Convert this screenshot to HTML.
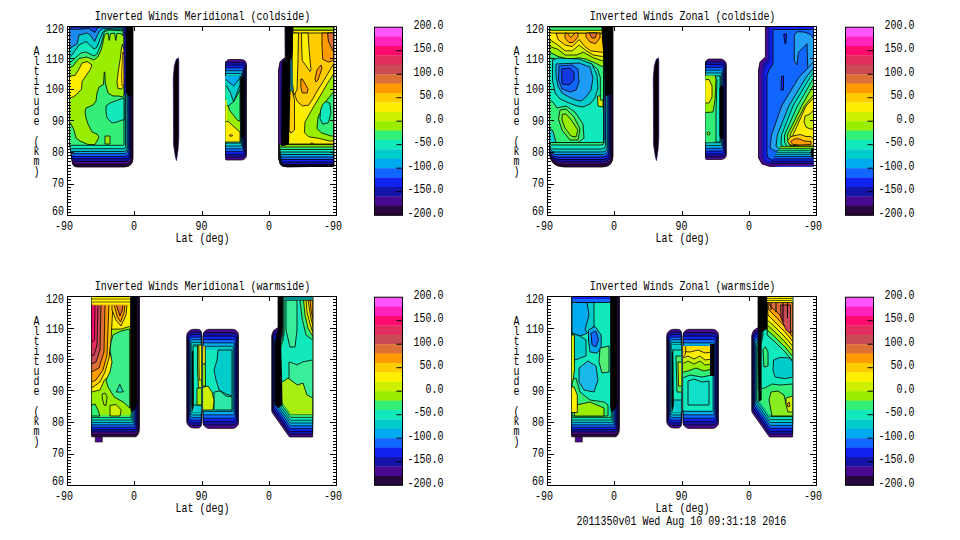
<!DOCTYPE html>
<html><head><meta charset="utf-8"><style>
html,body{margin:0;padding:0;background:#fff;width:960px;height:540px;overflow:hidden}
svg{display:block}
text{font-family:"Liberation Mono",monospace;font-size:10px;fill:#000}
</style></head><body>
<svg width="960" height="540" viewBox="0 0 960 540">
<rect width="960" height="540" fill="#fff"/>
<path d="M72.2 27.0H133.0V158.0Q133.0 167.0 124.0 167.0H77.8Q72.2 167.0 72.2 161.5V27.0Z" fill="#28083c" stroke="#000" stroke-width="0.8"/>
<path d="M71.9 27.0H132.0V156.2Q132.0 164.2 124.0 164.2H76.7Q71.9 164.2 71.9 159.4V27.0Z" fill="#4a0a90" stroke="#000" stroke-width="0.8"/>
<path d="M71.5 27.0H131.0V154.4Q131.0 161.4 124.0 161.4H75.7Q71.5 161.4 71.5 157.3V27.0Z" fill="#1414a8" stroke="#000" stroke-width="0.8"/>
<path d="M71.2 27.0H130.0V152.7Q130.0 158.7 124.0 158.7H74.6Q71.2 158.7 71.2 155.3V27.0Z" fill="#1122ee" stroke="#000" stroke-width="0.8"/>
<path d="M70.9 27.0H129.0V151.4Q129.0 156.4 124.0 156.4H73.8Q70.9 156.4 70.9 153.6V27.0Z" fill="#1166ff" stroke="#000" stroke-width="0.8"/>
<path d="M70.6 27.0H128.0V149.7Q128.0 153.7 124.0 153.7H72.8Q70.6 153.7 70.6 151.5V27.0Z" fill="#00aaee" stroke="#000" stroke-width="0.8"/>
<path d="M70.3 27.0H127.0V148.4Q127.0 151.4 124.0 151.4H71.9Q70.3 151.4 70.3 149.8V27.0Z" fill="#00cccc" stroke="#000" stroke-width="0.8"/>
<path d="M70.0 27.0H125.5V146.7Q125.5 148.7 123.5 148.7H70.9Q70.0 148.7 70.0 147.8V27.0Z" fill="#11e8bb" stroke="#000" stroke-width="0.8"/>
<path d="M69.5 27.0H124.0V144.3Q124.0 145.3 123.0 145.3H69.6Q69.5 145.3 69.5 145.2V27.0Z" fill="#33ee77" stroke="#000" stroke-width="0.8"/>
<polygon points="69.5,27.0 124.0,27.0 124.0,95.0 122.0,97.0 119.0,96.0 113.0,96.0 108.0,93.0 105.3,83.0 104.8,72.0 104.2,72.0 103.5,84.5 99.0,87.0 97.0,93.0 96.0,101.0 93.0,105.0 86.0,108.0 85.0,112.0 86.0,118.0 88.0,124.0 92.0,132.0 97.0,134.0 99.0,137.0 97.0,141.0 95.0,144.5 88.0,144.5 80.0,141.0 76.0,138.0 74.0,130.0 71.0,124.0 69.5,122.0" fill="#99ee00" stroke="#000" stroke-width="0.8" stroke-linejoin="round"/>
<polygon points="106.0,106.0 110.0,103.0 118.0,100.0 124.0,98.0 124.0,120.0 122.0,120.0 117.0,122.0 112.0,123.0 107.0,118.0 106.0,112.0" fill="#11e8bb" stroke="#000" stroke-width="0.8" stroke-linejoin="round"/>
<polygon points="105.0,136.0 110.0,136.0 110.0,144.0 105.0,144.0" fill="#99ee00" stroke="#000" stroke-width="0.8" stroke-linejoin="round"/>
<polygon points="69.5,76.0 75.0,75.5 79.0,69.0 82.0,63.0 87.0,61.5 92.0,65.0 90.0,70.0 84.0,78.5 82.0,82.0 81.5,89.0 77.0,94.0 73.0,97.0 69.5,98.0" fill="#ffee00" stroke="#000" stroke-width="0.8" stroke-linejoin="round"/>
<polygon points="69.5,27.0 69.5,68.0 73.0,66.0 79.0,58.5 87.0,57.0 94.0,60.0 97.8,57.0 101.5,49.0 104.5,35.3 106.0,33.8 108.0,33.2 109.2,40.5 110.5,33.5 114.5,33.2 115.8,40.5 117.0,33.5 121.0,33.5 123.0,36.0 123.0,27.0" fill="#33ee77" stroke="#000" stroke-width="0.8" stroke-linejoin="round"/>
<polygon points="69.5,27.0 69.5,63.0 73.0,60.0 81.0,53.0 86.0,52.0 94.0,56.0 97.0,54.0 100.8,45.0 104.5,31.5 109.0,30.0 122.5,30.8 123.0,27.0" fill="#11e8bb" stroke="#000" stroke-width="0.8" stroke-linejoin="round"/>
<polygon points="69.5,27.0 69.5,57.0 72.0,55.0 79.0,45.0 86.0,41.5 94.0,49.0 97.0,47.0 100.0,39.0 103.0,32.0 106.0,29.3 124.0,29.3 124.0,27.0" fill="#00cccc" stroke="#000" stroke-width="0.8" stroke-linejoin="round"/>
<polygon points="69.5,27.0 69.5,48.0 72.0,47.0 77.0,44.0 79.0,35.0 87.0,33.0 90.3,35.0 94.5,41.5 97.0,36.0 99.3,31.0 103.0,28.5 124.0,27.8 124.0,27.0" fill="#1a8aee" stroke="#000" stroke-width="0.8" stroke-linejoin="round"/>
<polygon points="69.5,27.0 69.5,29.5 68.5,29.3 79.0,29.3 88.8,28.5 94.8,32.6 97.4,27.8 100.0,27.0" fill="#1a44dd" stroke="#000" stroke-width="0.8" stroke-linejoin="round"/>
<polygon points="122.5,44.0 124.0,50.0 124.0,86.0 121.5,89.0 118.0,88.5 117.0,82.0 118.5,70.0 120.5,57.0 121.5,48.0" fill="#ffee00" stroke="#000" stroke-width="0.8" stroke-linejoin="round"/>
<polygon points="122.8,52.0 124.0,55.0 124.0,84.0 122.0,86.0 121.5,75.0" fill="#ffcc00" stroke="#000" stroke-width="0.6" stroke-linejoin="round"/>
<polygon points="123.5,27.0 126.0,27.0 126.0,95.0 124.0,95.0" fill="#141478"/>
<polygon points="125.8,27.0 133.0,27.0 133.0,95.0 127.5,96.0 126.0,92.0" fill="#000000"/>
<polygon points="178.2,57.8 178.8,60.5 178.8,138.0 178.0,150.0 176.5,160.5 175.4,157.0 173.6,145.0 173.3,78.0 174.3,66.0 176.2,59.5" fill="#050008" stroke="#2a0860" stroke-width="0.7" stroke-linejoin="round"/>
<polygon points="246.5,64.5 246.3,63.2 245.8,62.0 245.0,61.0 244.0,60.2 242.8,59.7 241.5,59.5 229.5,59.5 228.5,59.6 227.5,60.0 226.7,60.7 226.0,61.5 225.6,62.5 225.5,63.5 225.5,159.0 225.5,159.3 225.6,159.5 225.8,159.7 226.0,159.9 226.2,160.0 226.5,160.0 241.5,160.0 242.8,159.8 244.0,159.3 245.0,158.5 245.8,157.5 246.3,156.3 246.5,155.0" fill="#4a0a90" stroke="#000" stroke-width="0.7" stroke-linejoin="round"/>
<polygon points="241.5,157.2 242.7,157.0 243.8,156.6 244.7,155.9 245.3,155.1 245.5,154.6 245.5,154.5 245.5,65.0 245.5,64.9 245.3,64.4 244.7,63.6 243.8,62.9 242.7,62.5 241.5,62.3 225.7,62.3 225.6,62.5 225.5,63.5 225.5,157.2" fill="#1414a8" stroke="#000" stroke-width="0.7" stroke-linejoin="round"/>
<polygon points="241.5,154.4 242.6,154.2 243.6,153.8 244.3,153.3 244.5,153.1 244.5,66.4 244.3,66.2 243.6,65.7 242.6,65.3 241.5,65.1 225.5,65.1 225.5,154.4" fill="#1122ee" stroke="#000" stroke-width="0.7" stroke-linejoin="round"/>
<polygon points="241.4,151.6 242.5,151.5 243.4,151.1 243.5,151.0 243.5,68.5 243.4,68.4 242.5,68.0 241.4,67.9 225.5,67.9 225.5,151.6" fill="#1166ff" stroke="#000" stroke-width="0.7" stroke-linejoin="round"/>
<polygon points="241.4,148.8 242.4,148.7 242.5,148.6 242.5,70.9 242.4,70.8 241.4,70.7 225.5,70.7 225.5,148.8" fill="#00aaee" stroke="#000" stroke-width="0.7" stroke-linejoin="round"/>
<polygon points="241.4,146.0 241.5,146.0 241.5,73.5 241.4,73.5 225.5,73.5 225.5,146.0" fill="#00cccc" stroke="#000" stroke-width="0.7" stroke-linejoin="round"/>
<polygon points="240.5,143.2 240.5,76.3 225.5,76.3 225.5,143.2" fill="#11e8bb" stroke="#000" stroke-width="0.7" stroke-linejoin="round"/>
<clipPath id="cl1"><polygon points="240.5,143.2 240.5,76.3 225.5,76.3 225.5,143.2"/></clipPath>
<g clip-path="url(#cl1)">
<polygon points="220.0,70.0 240.0,70.0 240.0,142.0 220.0,142.0" fill="#99ee00"/>
<polygon points="220.0,70.0 240.0,70.0 240.0,96.0 233.6,106.0 229.0,106.0 220.0,104.0" fill="#11e8bb" stroke="#000" stroke-width="0.8" stroke-linejoin="round"/>
<polygon points="240.0,90.0 240.0,121.0 237.7,120.5 233.6,115.3 229.4,110.0 228.4,106.0 233.6,101.7" fill="#33ee77" stroke="#000" stroke-width="0.8" stroke-linejoin="round"/>
<polygon points="220.0,70.0 240.0,70.0 240.0,85.0 233.6,101.7 230.0,92.0 226.5,86.0 220.0,84.0" fill="#00cccc" stroke="#000" stroke-width="0.8" stroke-linejoin="round"/>
<polygon points="220.0,70.0 240.0,70.0 240.0,78.0 233.6,86.0 226.5,80.0 220.0,79.0" fill="#00aaee" stroke="#000" stroke-width="0.8" stroke-linejoin="round"/>
<polygon points="220.0,121.0 228.4,121.5 233.0,126.0 240.0,132.0 240.0,142.0 220.0,142.0" fill="#ffee00" stroke="#000" stroke-width="0.8" stroke-linejoin="round"/>
<polygon points="220.0,100.0 226.8,100.0 226.8,121.0 220.0,121.0" fill="#ffee00"/>
<polygon points="229.0,135.5 231.0,134.5 233.0,135.5 231.0,136.5" fill="#ff9a00" stroke="#000" stroke-width="0.6" stroke-linejoin="round"/>
</g>
<polygon points="240.5,80.0 242.5,76.0 244.5,78.0 244.5,135.0 242.5,140.0 240.5,136.0" fill="#000000"/>
<polygon points="285.0,27.0 334.0,27.0 334.0,166.0 287.0,167.0 281.0,165.0 278.5,159.0 278.5,70.0 280.0,62.0 283.0,59.0 285.2,58.0" fill="#4a0a90" stroke="#000" stroke-width="0.8" stroke-linejoin="round"/>
<polygon points="280.5,63.0 283.0,60.5 283.0,140.0 280.0,140.0 280.0,70.0" fill="#2a1080"/>
<polygon points="293.0,27.0 333.5,27.0 333.5,144.0 288.0,144.0 288.0,95.0 291.0,60.0 293.0,50.0" fill="#ffcc00"/>
<polygon points="293.0,27.0 333.5,27.0 333.5,30.3 293.0,30.3" fill="#99ee00" stroke="#000" stroke-width="0.8" stroke-linejoin="round"/>
<polygon points="293.0,30.3 333.5,30.3 333.5,33.0 293.0,33.0" fill="#ffee00" stroke="#000" stroke-width="0.8" stroke-linejoin="round"/>
<polygon points="322.0,33.0 333.5,33.0 333.5,60.6 328.3,62.0 322.7,59.2 322.0,45.0" fill="#ff9a00" stroke="#000" stroke-width="0.8" stroke-linejoin="round"/>
<polygon points="327.6,33.0 333.5,33.0 333.5,52.0 328.3,41.0" fill="#dc7035" stroke="#000" stroke-width="0.8" stroke-linejoin="round"/>
<polygon points="301.6,33.0 308.0,33.0 309.3,52.0 311.0,70.0 310.0,71.5 302.3,60.6 301.6,45.0" fill="#ffee00" stroke="#000" stroke-width="0.8" stroke-linejoin="round"/>
<polygon points="321.0,65.0 322.0,68.0 318.0,80.0 316.0,82.0 315.0,79.0 317.0,70.0" fill="#ff9a00" stroke="#000" stroke-width="0.8" stroke-linejoin="round"/>
<polygon points="300.9,79.0 302.3,79.0 308.0,88.8 307.2,93.0 302.3,93.0 300.9,87.4" fill="#ff9a00" stroke="#000" stroke-width="0.8" stroke-linejoin="round"/>
<polygon points="333.5,64.0 324.0,80.0 316.0,93.0 312.8,98.8 308.6,105.2 302.3,105.9 297.4,101.6 295.2,96.0 293.5,80.0 292.0,62.0 291.0,45.0 289.0,60.0 288.0,95.0 288.0,144.0 333.5,144.0" fill="#ffee00" stroke="#000" stroke-width="0.8" stroke-linejoin="round"/>
<polygon points="292.5,33.0 298.5,33.0 298.0,60.0 297.0,90.0 294.0,95.0 292.0,80.0" fill="#ffee00" stroke="#000" stroke-width="0.8" stroke-linejoin="round"/>
<polygon points="289.0,92.0 292.0,90.0 294.5,100.0 294.5,130.0 291.0,133.0 289.0,130.0" fill="#ffcc00" stroke="#000" stroke-width="0.8" stroke-linejoin="round"/>
<polygon points="333.5,74.0 327.0,84.0 321.3,94.0 312.8,108.0 305.0,122.0 304.4,132.6 308.6,136.8 318.5,138.3 329.7,141.0 333.5,141.0" fill="#99ee00" stroke="#000" stroke-width="0.8" stroke-linejoin="round"/>
<polygon points="333.5,92.0 327.0,100.0 318.0,117.0 317.0,128.4 321.0,132.6 331.0,136.0 333.5,136.0" fill="#33ee77" stroke="#000" stroke-width="0.8" stroke-linejoin="round"/>
<polygon points="325.5,101.6 329.7,103.0 331.0,113.0 328.3,122.8 322.7,124.2 319.9,118.5 320.6,110.0 322.7,104.5" fill="#11e8bb" stroke="#000" stroke-width="0.8" stroke-linejoin="round"/>
<polygon points="310.0,144.0 312.0,142.5 314.0,144.0" fill="#ff9a00" stroke="#000" stroke-width="0.6" stroke-linejoin="round"/>
<path d="M279.5 144.6H333.5V166.5H285.5Q279.5 166.5 279.5 160.5V144.6Z" fill="#99ee00" stroke="#000" stroke-width="0.8"/>
<path d="M279.8 147.0H333.5V166.4H285.4Q279.8 166.4 279.8 160.8V147.0Z" fill="#33ee77" stroke="#000" stroke-width="0.8"/>
<path d="M280.1 149.5H333.5V166.3H285.3Q280.1 166.3 280.1 161.1V149.5Z" fill="#11e8bb" stroke="#000" stroke-width="0.8"/>
<path d="M280.4 152.0H333.5V166.2H285.2Q280.4 166.2 280.4 161.4V152.0Z" fill="#00cccc" stroke="#000" stroke-width="0.8"/>
<path d="M280.7 154.5H333.5V166.1H285.1Q280.7 166.1 280.7 161.7V154.5Z" fill="#00aaee" stroke="#000" stroke-width="0.8"/>
<path d="M281.0 157.0H333.5V166.0H285.0Q281.0 166.0 281.0 162.0V157.0Z" fill="#1166ff" stroke="#000" stroke-width="0.8"/>
<path d="M281.3 159.5H333.5V165.9H284.9Q281.3 165.9 281.3 162.3V159.5Z" fill="#1122ee" stroke="#000" stroke-width="0.8"/>
<path d="M281.6 162.0H333.5V165.8H284.8Q281.6 165.8 281.6 162.6V162.0Z" fill="#1414a8" stroke="#000" stroke-width="0.8"/>
<path d="M281.9 164.5H333.5V165.7H284.7Q281.9 165.7 281.9 162.9V164.5Z" fill="#4a0a90" stroke="#000" stroke-width="0.8"/>
<polygon points="285.5,27.0 292.8,27.0 292.8,50.0 291.5,62.0 290.5,90.0 289.5,120.0 289.0,144.0 284.0,146.0 281.0,146.0 281.5,100.0 282.0,62.0 285.5,58.0" fill="#000000"/>
<polygon points="290.3,60.0 291.5,58.0 292.5,70.0 293.0,90.0 290.5,92.0" fill="#0e6a8a"/>
<path d="M549.5 27.0H613.0V156.0Q613.0 167.0 602.0 167.0H564.5Q549.5 167.0 549.5 152.0V27.0Z" fill="#28083c" stroke="#000" stroke-width="0.8"/>
<path d="M549.5 27.0H612.0V154.3Q612.0 164.3 602.0 164.3H562.9Q549.5 164.3 549.5 150.9V27.0Z" fill="#4a0a90" stroke="#000" stroke-width="0.8"/>
<path d="M549.5 27.0H611.0V153.0Q611.0 162.0 602.0 162.0H561.5Q549.5 162.0 549.5 150.0V27.0Z" fill="#1414a8" stroke="#000" stroke-width="0.8"/>
<path d="M549.5 27.0H610.0V151.5Q610.0 159.5 602.0 159.5H560.0Q549.5 159.5 549.5 149.0V27.0Z" fill="#1122ee" stroke="#000" stroke-width="0.8"/>
<path d="M549.5 27.0H609.0V150.0Q609.0 157.0 602.0 157.0H558.5Q549.5 157.0 549.5 148.0V27.0Z" fill="#1166ff" stroke="#000" stroke-width="0.8"/>
<path d="M549.5 27.0H608.0V148.5Q608.0 154.5 602.0 154.5H557.0Q549.5 154.5 549.5 147.0V27.0Z" fill="#00aaee" stroke="#000" stroke-width="0.8"/>
<path d="M549.5 27.0H607.0V147.0Q607.0 152.0 602.0 152.0H555.5Q549.5 152.0 549.5 146.0V27.0Z" fill="#00cccc" stroke="#000" stroke-width="0.8"/>
<path d="M549.5 27.0H605.5V145.0Q605.5 149.0 601.5 149.0H553.7Q549.5 149.0 549.5 144.8V27.0Z" fill="#11e8bb" stroke="#000" stroke-width="0.8"/>
<path d="M549.5 27.0H604.0V142.0Q604.0 145.0 601.0 145.0H551.3Q549.5 145.0 549.5 143.2V27.0Z" fill="#33ee77" stroke="#000" stroke-width="0.8"/>
<path d="M549.5 27.0H603.5V142.5H552.5Q549.5 142.5 549.5 139.5V27.0Z" fill="#11e8bb" stroke="#000" stroke-width="0.8"/>
<polygon points="549.5,100.0 553.0,102.0 557.0,108.0 566.0,106.0 575.0,112.0 583.0,124.0 584.0,138.0 578.0,142.5 549.5,142.5" fill="#33ee77" stroke="#000" stroke-width="0.8" stroke-linejoin="round"/>
<polygon points="560.0,110.0 566.0,109.0 574.0,117.0 580.0,129.0 578.0,140.0 570.0,140.0 562.0,130.0 558.5,119.0" fill="#66ee44" stroke="#000" stroke-width="0.8" stroke-linejoin="round"/>
<polygon points="562.3,114.3 566.0,114.0 572.0,121.0 577.8,130.0 576.0,137.0 571.0,136.0 565.0,128.0 562.0,120.0" fill="#99ee00" stroke="#000" stroke-width="0.8" stroke-linejoin="round"/>
<polygon points="597.5,96.0 603.0,96.0 603.0,107.0 598.0,106.0" fill="#ccf000" stroke="#000" stroke-width="0.8" stroke-linejoin="round"/>
<polygon points="549.5,128.0 553.0,131.0 556.0,142.5 549.5,142.5" fill="#00cccc" stroke="#000" stroke-width="0.8" stroke-linejoin="round"/>
<polygon points="549.5,27.0 549.5,57.8 555.3,59.2 560.9,62.0 579.2,62.0 590.5,63.4 597.5,69.1 600.3,77.5 600.3,100.0 603.5,100.0 603.5,27.0" fill="#33ee77" stroke="#000" stroke-width="0.8" stroke-linejoin="round"/>
<polygon points="549.5,27.0 549.5,52.2 558.1,56.4 567.9,59.2 579.2,57.8 586.3,59.2 596.1,63.4 601.7,66.3 603.5,66.3 603.5,27.0" fill="#99ee00" stroke="#000" stroke-width="0.8" stroke-linejoin="round"/>
<polygon points="549.5,27.0 549.5,46.5 558.1,49.4 565.1,55.0 576.4,55.0 583.4,52.2 593.3,57.8 601.7,60.6 603.5,60.6 603.5,27.0" fill="#ccf000" stroke="#000" stroke-width="0.8" stroke-linejoin="round"/>
<polygon points="549.5,27.0 549.5,39.5 558.1,45.1 565.1,50.8 572.2,50.8 579.2,45.1 586.3,50.8 593.3,55.0 601.7,56.4 603.5,56.4 603.5,27.0" fill="#ffee00" stroke="#000" stroke-width="0.8" stroke-linejoin="round"/>
<polygon points="556.0,33.0 558.1,39.5 565.1,45.1 572.2,46.5 579.2,39.5 584.8,46.5 590.5,50.8 601.7,52.2 603.5,52.2 603.5,33.0" fill="#ffcc00" stroke="#000" stroke-width="0.8" stroke-linejoin="round"/>
<polygon points="549.5,27.0 603.5,27.0 603.5,33.0 549.5,33.0" fill="#ffee00" stroke="#000" stroke-width="0.8" stroke-linejoin="round"/>
<polygon points="549.5,27.0 603.5,27.0 603.5,30.3 549.5,30.3" fill="#33ee77" stroke="#000" stroke-width="0.8" stroke-linejoin="round"/>
<polygon points="565.0,33.0 567.0,33.0 570.8,37.5 575.0,33.0 578.0,33.0 578.0,37.0 573.0,42.5 569.0,42.5 565.0,38.0" fill="#ff9a00" stroke="#000" stroke-width="0.8" stroke-linejoin="round"/>
<polygon points="586.0,33.0 600.0,33.0 600.0,38.0 595.5,43.7 590.0,42.0 586.0,37.0" fill="#ff9a00" stroke="#000" stroke-width="0.8" stroke-linejoin="round"/>
<polygon points="589.0,33.0 597.0,33.0 595.0,38.0 592.0,38.0" fill="#dc7035" stroke="#000" stroke-width="0.8" stroke-linejoin="round"/>
<polygon points="552.5,60.0 558.0,58.0 579.0,59.0 592.0,64.0 597.0,75.0 598.0,88.0 595.0,98.0 590.0,104.0 583.0,107.0 577.0,106.0 569.0,103.0 560.0,99.0 555.0,93.0 552.5,80.0" fill="#00cccc" stroke="#000" stroke-width="0.8" stroke-linejoin="round"/>
<polygon points="556.0,64.0 579.0,63.0 590.0,67.0 593.0,78.0 591.0,90.0 586.0,97.0 581.0,101.0 576.0,100.0 569.0,97.0 562.0,93.0 558.0,86.0 556.0,75.0" fill="#1e9cf5" stroke="#000" stroke-width="0.8" stroke-linejoin="round"/>
<polygon points="559.0,66.0 572.0,65.0 578.0,69.0 579.0,82.0 576.0,90.0 570.0,92.0 562.0,89.0 558.5,80.0" fill="#1166ff" stroke="#000" stroke-width="0.8" stroke-linejoin="round"/>
<polygon points="561.6,69.0 570.0,68.0 574.0,72.0 574.0,80.0 569.0,85.0 562.0,84.0" fill="#1438e0" stroke="#000" stroke-width="0.8" stroke-linejoin="round"/>
<polygon points="601.5,27.0 612.0,27.0 612.0,94.0 606.0,96.0 604.6,100.0 604.0,60.0 602.0,40.0" fill="#000000"/>
<polygon points="604.5,94.0 606.0,96.0 606.0,140.0 604.5,140.0" fill="#101070"/>
<polygon points="658.2,57.8 658.8,60.5 658.8,138.0 658.0,150.0 656.5,160.5 655.4,157.0 653.6,145.0 653.3,78.0 654.3,66.0 656.2,59.5" fill="#050008" stroke="#2a0860" stroke-width="0.7" stroke-linejoin="round"/>
<polygon points="709.5,59.0 708.5,59.1 707.5,59.5 706.7,60.2 706.0,61.0 705.6,62.0 705.5,63.0 705.5,158.5 705.5,158.8 705.6,159.0 705.8,159.2 706.0,159.4 706.2,159.5 706.5,159.5 721.4,159.5 722.7,159.3 723.9,158.8 724.9,158.0 725.7,157.0 726.2,155.8 726.4,154.5 726.4,65.0 726.2,63.4 725.6,62.0 724.6,60.8 723.4,59.8 722.0,59.2 720.4,59.0" fill="#4a0a90" stroke="#000" stroke-width="0.7" stroke-linejoin="round"/>
<polygon points="721.4,156.7 722.6,156.5 723.7,156.1 724.6,155.4 725.2,154.6 725.4,154.1 725.4,154.0 725.4,65.5 725.3,65.1 725.0,64.4 724.3,63.4 723.2,62.5 721.9,62.0 720.4,61.8 705.7,61.8 705.6,62.0 705.5,63.0 705.5,156.7" fill="#1414a8" stroke="#000" stroke-width="0.7" stroke-linejoin="round"/>
<polygon points="721.4,153.9 722.5,153.7 723.5,153.3 724.2,152.8 724.4,152.6 724.4,66.6 724.0,66.0 723.0,65.3 721.8,64.8 720.4,64.6 705.5,64.6 705.5,153.9" fill="#1122ee" stroke="#000" stroke-width="0.7" stroke-linejoin="round"/>
<polygon points="721.3,151.1 722.4,151.0 723.3,150.6 723.4,150.5 723.4,68.5 722.8,68.0 721.7,67.6 720.3,67.4 705.5,67.4 705.5,151.1" fill="#1166ff" stroke="#000" stroke-width="0.7" stroke-linejoin="round"/>
<polygon points="721.3,148.3 722.3,148.2 722.4,148.1 722.4,70.7 721.6,70.4 720.3,70.2 705.5,70.2 705.5,148.3" fill="#00aaee" stroke="#000" stroke-width="0.7" stroke-linejoin="round"/>
<polygon points="721.3,145.5 721.4,145.5 721.4,73.1 720.3,73.0 705.5,73.0 705.5,145.5" fill="#00cccc" stroke="#000" stroke-width="0.7" stroke-linejoin="round"/>
<polygon points="720.4,142.7 720.4,75.8 720.3,75.8 705.5,75.8 705.5,142.7" fill="#11e8bb" stroke="#000" stroke-width="0.7" stroke-linejoin="round"/>
<clipPath id="cl2"><polygon points="720.4,142.7 720.4,75.8 720.3,75.8 705.5,75.8 705.5,142.7"/></clipPath>
<g clip-path="url(#cl2)">
<polygon points="700.0,70.0 720.0,70.0 720.0,142.0 700.0,142.0" fill="#33ee77"/>
<polygon points="700.0,72.0 715.0,72.0 716.0,80.0 715.0,100.0 713.0,112.0 700.0,113.0" fill="#99ee00" stroke="#000" stroke-width="0.8" stroke-linejoin="round"/>
<polygon points="700.0,80.0 709.0,79.5 712.0,86.0 712.0,97.0 709.0,103.0 700.0,103.0" fill="#ffee00" stroke="#000" stroke-width="0.8" stroke-linejoin="round"/>
<polygon points="715.0,76.0 720.0,76.0 720.0,142.0 716.0,142.0 716.0,110.0 717.0,80.0" fill="#11e8bb" stroke="#000" stroke-width="0.8" stroke-linejoin="round"/>
<path d="M707,133.5a1.5,1.5 0 1,0 3,0a1.5,1.5 0 1,0 -3,0Z" fill="#99ee00" stroke="#000" stroke-width="0.8"/>
</g>
<polygon points="719.4,88.0 721.5,85.0 723.6,87.0 723.6,137.0 721.5,140.0 719.4,136.0" fill="#000000"/>
<polygon points="765.4,27.0 813.5,27.0 813.5,166.5 770.0,166.5 762.0,164.0 758.5,158.0 758.5,70.0 760.0,62.0 765.4,57.0" fill="#4a0a90" stroke="#000" stroke-width="0.8" stroke-linejoin="round"/>
<polygon points="767.5,27.0 813.5,27.0 813.5,164.5 771.0,164.5 764.0,162.0 761.8,157.0 761.8,72.0 763.0,64.0 767.5,59.0" fill="#1414a8"/>
<polygon points="770.3,27.0 813.5,27.0 813.5,162.5 772.0,162.5 766.0,160.0 764.6,156.0 764.6,74.0 766.0,67.0 770.3,61.0" fill="#1122ee"/>
<polygon points="773.0,29.5 813.5,29.5 813.5,160.5 773.0,160.5 768.0,158.0 767.0,154.0 767.0,76.0 769.0,70.0 773.0,64.0" fill="#1166ff" stroke="#000" stroke-width="0.8" stroke-linejoin="round"/>
<polygon points="794.3,35.3 797.0,31.7 804.0,32.0 809.7,34.0 813.5,38.0 813.5,80.0 808.3,77.5 807.6,63.4 807.0,43.7 798.5,52.2 797.0,64.8 794.3,60.6" fill="#22a0f5" stroke="#000" stroke-width="0.8" stroke-linejoin="round"/>
<polygon points="783.7,34.0 786.5,34.0 786.0,43.7 785.0,43.7" fill="#1122ee" stroke="#000" stroke-width="0.8" stroke-linejoin="round"/>
<polygon points="781.5,76.0 783.5,76.0 783.5,90.0 781.0,90.0" fill="#1122ee" stroke="#000" stroke-width="0.8" stroke-linejoin="round"/>
<polygon points="813.5,62.0 798.8,77.5 781.6,106.0 771.5,135.0 770.0,148.0 775.0,151.0 813.5,151.0" fill="#22a0f5" stroke="#000" stroke-width="0.8" stroke-linejoin="round"/>
<polygon points="813.5,68.0 806.0,77.5 788.8,106.0 777.3,135.0 776.0,146.0 780.0,149.5 813.5,149.5" fill="#00cccc" stroke="#000" stroke-width="0.8" stroke-linejoin="round"/>
<polygon points="813.5,73.0 810.0,77.5 793.0,106.0 781.6,135.0 781.0,144.0 784.0,148.0 813.5,148.0" fill="#11e8bb" stroke="#000" stroke-width="0.8" stroke-linejoin="round"/>
<polygon points="813.5,78.0 797.4,106.0 784.5,135.0 784.5,142.0 787.0,146.5 813.5,146.5" fill="#33ee77" stroke="#000" stroke-width="0.8" stroke-linejoin="round"/>
<polygon points="813.5,85.0 801.7,106.0 787.4,135.0 788.0,141.0 790.0,145.5 813.5,145.5" fill="#99ee00" stroke="#000" stroke-width="0.8" stroke-linejoin="round"/>
<polygon points="813.5,95.0 804.6,106.0 790.0,135.0 791.0,140.0 793.0,145.0 813.5,145.0" fill="#ccf000" stroke="#000" stroke-width="0.8" stroke-linejoin="round"/>
<polygon points="813.5,98.0 806.0,106.0 793.0,135.0 794.0,139.0 796.0,144.5 813.5,144.5" fill="#ffee00" stroke="#000" stroke-width="0.8" stroke-linejoin="round"/>
<polygon points="813.5,110.0 810.0,114.0 805.0,116.0 804.0,122.0 806.0,127.0 810.0,129.0 813.5,129.0" fill="#ccf000" stroke="#000" stroke-width="0.8" stroke-linejoin="round"/>
<polygon points="787.5,141.0 791.0,136.5 800.0,134.5 806.0,136.5 811.0,136.5 813.5,139.0 813.5,146.0 800.0,146.0 790.0,145.0" fill="#ffcc00" stroke="#000" stroke-width="0.8" stroke-linejoin="round"/>
<polygon points="790.5,141.5 795.0,138.7 800.0,139.0 804.0,141.0 811.0,141.5 811.0,144.5 800.0,145.0 793.0,144.5" fill="#ff9a00" stroke="#000" stroke-width="0.8" stroke-linejoin="round"/>
<polygon points="780.0,146.3 813.5,146.3 813.5,166.3 780.0,166.3" fill="#99ee00"/>
<path d="M780.0 146.3H813.5" stroke="#000" stroke-width="0.7"/>
<polygon points="778.8,148.3 813.5,148.3 813.5,166.3 778.8,166.3" fill="#33ee77"/>
<path d="M778.8 148.3H813.5" stroke="#000" stroke-width="0.7"/>
<polygon points="777.6,150.3 813.5,150.3 813.5,166.3 777.6,166.3" fill="#11e8bb"/>
<path d="M777.6 150.3H813.5" stroke="#000" stroke-width="0.7"/>
<polygon points="776.4,152.3 813.5,152.3 813.5,166.3 776.4,166.3" fill="#00cccc"/>
<path d="M776.4 152.3H813.5" stroke="#000" stroke-width="0.7"/>
<polygon points="775.2,154.3 813.5,154.3 813.5,166.3 775.2,166.3" fill="#00aaee"/>
<path d="M775.2 154.3H813.5" stroke="#000" stroke-width="0.7"/>
<polygon points="774.0,156.5 813.5,156.5 813.5,166.3 774.0,166.3" fill="#1166ff"/>
<path d="M774.0 156.5H813.5" stroke="#000" stroke-width="0.7"/>
<polygon points="772.8,158.8 813.5,158.8 813.5,166.3 772.8,166.3" fill="#1122ee"/>
<path d="M772.8 158.8H813.5" stroke="#000" stroke-width="0.7"/>
<polygon points="771.6,161.2 813.5,161.2 813.5,166.3 771.6,166.3" fill="#1414a8"/>
<path d="M771.6 161.2H813.5" stroke="#000" stroke-width="0.7"/>
<polygon points="770.4,163.6 813.5,163.6 813.5,166.3 770.4,166.3" fill="#4a0a90"/>
<path d="M770.4 163.6H813.5" stroke="#000" stroke-width="0.7"/>
<polygon points="811.0,149.0 813.5,148.0 813.5,158.0 811.0,157.0" fill="#000000"/>
<rect x="95.2" y="436" width="7" height="6" fill="#4a0a90" stroke="#000" stroke-width="0.6"/>
<polygon points="135.1,436.8 136.0,436.6 136.8,436.1 137.5,435.2 138.2,434.0 138.8,432.5 139.2,430.9 139.4,429.1 139.5,427.2 139.5,296.5 91.6,296.5 91.6,436.8" fill="#28083c" stroke="#000" stroke-width="0.7" stroke-linejoin="round"/>
<polygon points="135.0,434.4 135.7,434.3 136.4,433.8 136.9,433.2 137.4,432.3 137.8,431.2 138.1,430.0 138.3,428.6 138.4,427.1 138.4,296.5 91.6,296.5 91.6,434.4" fill="#4a0a90" stroke="#000" stroke-width="0.7" stroke-linejoin="round"/>
<polygon points="135.0,432.0 135.5,431.9 135.9,431.6 136.3,431.2 136.6,430.6 136.9,429.9 137.1,429.0 137.2,428.1 137.3,427.0 137.3,296.5 91.6,296.5 91.6,432.0" fill="#1414a8" stroke="#000" stroke-width="0.7" stroke-linejoin="round"/>
<polygon points="134.9,429.6 135.3,429.5 135.5,429.4 135.7,429.2 135.9,428.9 136.0,428.5 136.1,428.1 136.2,427.7 136.2,426.8 136.2,296.5 91.6,296.5 91.6,429.6" fill="#1122ee" stroke="#000" stroke-width="0.7" stroke-linejoin="round"/>
<polygon points="134.9,427.2 135.1,427.2 135.1,426.7 135.1,296.5 91.6,296.5 91.6,427.2" fill="#1166ff" stroke="#000" stroke-width="0.7" stroke-linejoin="round"/>
<polygon points="134.0,424.8 134.0,296.5 91.6,296.5 91.6,424.8" fill="#00aaee" stroke="#000" stroke-width="0.7" stroke-linejoin="round"/>
<polygon points="132.9,422.4 132.9,296.5 91.6,296.5 91.6,422.4" fill="#00cccc" stroke="#000" stroke-width="0.7" stroke-linejoin="round"/>
<polygon points="131.8,420.0 131.8,296.5 91.6,296.5 91.6,420.0" fill="#11e8bb" stroke="#000" stroke-width="0.7" stroke-linejoin="round"/>
<polygon points="130.7,417.6 130.7,296.5 91.6,296.5 91.6,417.6" fill="#33ee77" stroke="#000" stroke-width="0.7" stroke-linejoin="round"/>
<clipPath id="cl3"><polygon points="130.7,417.6 130.7,296.5 91.6,296.5 91.6,417.6"/></clipPath>
<g clip-path="url(#cl3)">
<polygon points="91.6,296.5 131.0,296.5 131.0,415.3 91.6,415.3" fill="#99ee00"/>
<polygon points="91.6,296.5 131.0,296.5 131.0,326.0 121.2,329.0 111.4,329.2 108.5,336.3 108.5,350.3 112.8,360.2 114.2,370.0 110.0,376.0 104.3,380.0 100.0,390.0 91.6,392.0" fill="#ffee00" stroke="#000" stroke-width="0.8" stroke-linejoin="round"/>
<polygon points="91.6,304.0 113.0,304.0 111.0,340.0 109.0,358.0 105.0,372.0 100.0,382.0 91.6,388.0" fill="#ffcc00" stroke="#000" stroke-width="0.8" stroke-linejoin="round"/>
<polygon points="91.6,304.0 109.0,304.0 107.0,355.0 103.0,370.0 96.0,380.0 91.6,382.0" fill="#ff9a00" stroke="#000" stroke-width="0.8" stroke-linejoin="round"/>
<polygon points="91.6,304.0 105.0,304.0 104.0,352.0 99.0,368.0 91.6,372.0" fill="#dc7035" stroke="#000" stroke-width="0.8" stroke-linejoin="round"/>
<polygon points="91.6,304.0 101.0,304.0 100.0,350.0 96.0,362.0 91.6,364.0" fill="#c84a55" stroke="#000" stroke-width="0.8" stroke-linejoin="round"/>
<polygon points="91.6,304.0 98.0,304.0 97.0,345.0 94.0,355.0 91.6,356.0" fill="#e22d5f" stroke="#000" stroke-width="0.8" stroke-linejoin="round"/>
<polygon points="91.6,304.0 95.0,304.0 94.5,340.0 91.6,342.0" fill="#ff0a6e" stroke="#000" stroke-width="0.8" stroke-linejoin="round"/>
<polygon points="112.0,304.0 127.0,304.0 126.0,315.0 121.0,326.0 116.0,320.0 112.0,310.0" fill="#ffcc00" stroke="#000" stroke-width="0.8" stroke-linejoin="round"/>
<polygon points="114.0,304.0 125.0,304.0 124.0,313.0 120.5,322.0 117.0,316.0" fill="#ff9a00" stroke="#000" stroke-width="0.8" stroke-linejoin="round"/>
<polygon points="116.0,304.0 123.0,304.0 122.0,311.0 120.0,316.0" fill="#dc7035" stroke="#000" stroke-width="0.8" stroke-linejoin="round"/>
<polygon points="113.0,334.8 121.2,331.0 129.7,329.0 129.7,408.0 124.0,402.6 114.2,397.0 108.0,387.0 106.0,380.0 110.0,372.0 112.0,362.0 110.0,350.0 111.0,342.0" fill="#3dee88" stroke="#000" stroke-width="0.8" stroke-linejoin="round"/>
<polygon points="116.3,392.0 119.8,384.3 123.3,392.0" fill="#11e8bb" stroke="#000" stroke-width="0.8" stroke-linejoin="round"/>
<polygon points="102.2,394.0 105.0,393.0 107.1,397.0 106.0,405.4 104.0,405.0 102.2,398.0" fill="#99ee00" stroke="#000" stroke-width="0.8" stroke-linejoin="round"/>
<polygon points="110.0,405.4 116.0,404.5 121.2,410.0 120.0,416.0 110.0,416.0" fill="#ccf000" stroke="#000" stroke-width="0.8" stroke-linejoin="round"/>
<polygon points="91.6,405.0 95.0,404.0 98.0,410.0 100.0,416.0 91.6,416.0" fill="#33ee77" stroke="#000" stroke-width="0.8" stroke-linejoin="round"/>
<polygon points="91.6,296.5 131.0,296.5 131.0,304.0 91.6,304.0" fill="#ffee00"/>
<path d="M91.6 299H131" stroke="#000" stroke-width="0.6"/>
<path d="M91.6 302H131" stroke="#000" stroke-width="0.6"/>
<polygon points="91.6,304.0 131.0,304.0 131.0,305.2 91.6,305.2" fill="#ffcc00"/>
</g>
<polygon points="130.2,296.5 137.0,296.5 137.0,405.0 134.6,410.0 131.5,412.0 130.2,408.0" fill="#000000"/>
<polygon points="186.7,336.3 186.7,421.0 186.9,422.8 187.6,424.5 188.8,425.9 190.2,427.1 191.9,427.8 193.7,428.0 198.2,428.0 199.0,427.9 199.7,427.6 200.3,427.1 200.8,426.5 201.1,425.8 201.2,425.0 201.2,332.3 201.1,331.5 200.8,330.8 200.3,330.2 199.7,329.7 199.0,329.4 198.2,329.3 193.7,329.3 191.9,329.5 190.2,330.2 188.8,331.4 187.6,332.8 186.9,334.5" fill="#4a0a90" stroke="#000" stroke-width="0.7" stroke-linejoin="round"/>
<polygon points="187.5,420.5 187.6,421.2 188.1,422.2 189.0,423.5 190.4,424.5 192.0,425.2 193.7,425.4 201.1,425.4 201.2,425.0 201.2,332.3 201.1,331.9 193.7,331.9 192.0,332.1 190.4,332.8 189.0,333.8 188.1,335.1 187.6,336.1 187.5,336.8" fill="#1414a8" stroke="#000" stroke-width="0.7" stroke-linejoin="round"/>
<polygon points="188.4,419.7 188.5,420.0 189.3,421.0 190.5,421.9 192.0,422.6 193.7,422.8 201.2,422.8 201.2,334.5 193.7,334.5 192.0,334.7 190.5,335.4 189.3,336.3 188.5,337.3 188.4,337.6" fill="#1122ee" stroke="#000" stroke-width="0.7" stroke-linejoin="round"/>
<polygon points="189.2,418.1 189.6,418.5 190.7,419.4 192.1,420.0 193.8,420.2 201.2,420.2 201.2,337.1 193.8,337.1 192.1,337.3 190.7,337.9 189.6,338.8 189.2,339.2" fill="#1166ff" stroke="#000" stroke-width="0.7" stroke-linejoin="round"/>
<polygon points="190.1,416.3 190.8,416.8 192.2,417.4 193.8,417.6 201.2,417.6 201.2,339.7 193.8,339.7 192.2,339.9 190.8,340.5 190.1,341.0" fill="#00aaee" stroke="#000" stroke-width="0.7" stroke-linejoin="round"/>
<polygon points="190.9,414.2 191.0,414.3 192.3,414.8 193.8,415.0 201.2,415.0 201.2,342.3 193.8,342.3 192.3,342.5 191.0,343.0 190.9,343.1" fill="#00cccc" stroke="#000" stroke-width="0.7" stroke-linejoin="round"/>
<polygon points="191.8,412.0 192.3,412.2 193.8,412.4 201.2,412.4 201.2,344.9 193.8,344.9 192.3,345.1 191.8,345.3" fill="#11e8bb" stroke="#000" stroke-width="0.7" stroke-linejoin="round"/>
<clipPath id="cl4"><polygon points="191.8,412.0 192.3,412.2 193.8,412.4 201.2,412.4 201.2,344.9 193.8,344.9 192.3,345.1 191.8,345.3"/></clipPath>
<g clip-path="url(#cl4)">
<polygon points="185.0,340.0 202.0,340.0 202.0,420.0 185.0,420.0" fill="#00cccc"/>
<polygon points="193.0,346.0 202.0,346.0 202.0,405.0 193.0,405.0" fill="#11e8bb" stroke="#000" stroke-width="0.8" stroke-linejoin="round"/>
<polygon points="197.5,341.0 201.5,341.0 201.5,388.0 198.5,388.0 197.5,370.0" fill="#ccf000" stroke="#000" stroke-width="0.8" stroke-linejoin="round"/>
<polygon points="198.8,345.0 201.5,345.0 201.5,380.0 199.2,380.0" fill="#ffee00" stroke="#000" stroke-width="0.8" stroke-linejoin="round"/>
<polygon points="197.0,388.0 201.5,388.0 201.5,405.0 197.0,405.0" fill="#99ee00" stroke="#000" stroke-width="0.8" stroke-linejoin="round"/>
</g>
<polygon points="191.8,352.0 193.3,350.0 193.8,405.0 192.5,412.0 191.5,405.0" fill="#000000"/>
<polygon points="209.2,329.3 207.6,329.5 206.2,330.1 205.0,331.1 204.0,332.3 203.4,333.7 203.2,335.3 203.2,422.4 203.4,424.0 204.0,425.4 205.0,426.6 206.2,427.6 207.6,428.2 209.2,428.4 232.5,428.4 234.1,428.2 235.5,427.6 236.7,426.6 237.7,425.4 238.3,424.0 238.5,422.4 238.5,335.3 238.3,333.7 237.7,332.3 236.7,331.1 235.5,330.1 234.1,329.5 232.5,329.3" fill="#4a0a90" stroke="#000" stroke-width="0.7" stroke-linejoin="round"/>
<polygon points="232.5,425.0 234.0,424.8 235.3,424.2 236.4,423.4 237.2,422.4 237.4,421.8 237.5,421.7 237.5,336.0 237.4,335.9 237.2,335.3 236.4,334.3 235.3,333.5 234.0,332.9 232.5,332.7 203.8,332.7 203.4,333.7 203.2,335.3 203.2,422.4 203.4,424.0 203.8,425.0" fill="#1414a8" stroke="#000" stroke-width="0.7" stroke-linejoin="round"/>
<polygon points="232.5,421.6 233.9,421.4 235.1,420.9 236.1,420.1 236.4,419.8 236.4,337.9 236.1,337.6 235.1,336.8 233.9,336.3 232.5,336.1 203.2,336.1 203.2,421.6" fill="#1122ee" stroke="#000" stroke-width="0.7" stroke-linejoin="round"/>
<polygon points="232.4,418.2 233.8,418.0 234.9,417.5 235.3,417.2 235.3,340.5 234.9,340.2 233.8,339.7 232.4,339.5 203.2,339.5 203.2,418.2" fill="#1166ff" stroke="#000" stroke-width="0.7" stroke-linejoin="round"/>
<polygon points="232.4,414.8 233.7,414.6 234.3,414.4 234.3,343.3 233.7,343.1 232.4,342.9 203.2,342.9 203.2,414.8" fill="#00aaee" stroke="#000" stroke-width="0.7" stroke-linejoin="round"/>
<polygon points="232.4,411.4 233.2,411.3 233.2,346.4 232.4,346.3 203.2,346.3 203.2,411.4" fill="#00cccc" stroke="#000" stroke-width="0.7" stroke-linejoin="round"/>
<clipPath id="cl5"><polygon points="232.4,411.4 233.2,411.3 233.2,346.4 232.4,346.3 203.2,346.3 203.2,411.4"/></clipPath>
<g clip-path="url(#cl5)">
<polygon points="200.0,350.0 232.0,350.0 232.0,410.0 200.0,410.0" fill="#11e8bb"/>
<polygon points="218.0,350.0 232.0,350.0 232.0,396.0 226.0,394.0 219.0,390.0 216.0,380.0 214.0,370.0 217.0,360.0" fill="#00cccc" stroke="#000" stroke-width="0.8" stroke-linejoin="round"/>
<polygon points="214.0,392.0 220.0,391.0 226.0,396.0 232.0,397.0 232.0,410.0 214.0,410.0" fill="#2ee8a8" stroke="#000" stroke-width="0.8" stroke-linejoin="round"/>
<polygon points="200.0,388.0 208.0,386.0 212.0,392.0 214.0,400.0 213.0,410.0 200.0,410.0" fill="#ccf000" stroke="#000" stroke-width="0.8" stroke-linejoin="round"/>
<polygon points="200.0,341.0 205.3,341.0 205.3,364.0 200.0,364.0" fill="#ffee00" stroke="#000" stroke-width="0.8" stroke-linejoin="round"/>
<polygon points="200.0,364.0 205.3,364.0 205.5,386.0 200.0,386.0" fill="#99ee00" stroke="#000" stroke-width="0.8" stroke-linejoin="round"/>
</g>
<polygon points="278.0,327.5 273.8,330.3 273.5,330.6 273.3,331.1 272.2,333.7 272.0,334.3 271.9,334.9 271.8,335.6 271.7,336.3 271.7,337.1 271.7,409.2 271.7,410.0 271.8,410.8 271.9,411.5 272.1,412.2 272.3,412.7 272.5,413.1 289.2,436.7 289.4,436.9 289.7,437.0 312.6,437.0 312.6,296.5 278.0,296.5 278.0,327.4 278.0,327.5" fill="#4a0a90" stroke="#000" stroke-width="0.7" stroke-linejoin="round"/>
<polygon points="278.8,328.2 278.8,328.8 278.7,329.3 278.5,329.7 278.4,330.0 278.2,330.2 278.2,330.2 278.1,330.3 274.0,333.0 273.9,333.2 273.7,333.4 272.7,335.9 272.7,336.2 272.6,336.4 272.6,336.6 272.6,336.8 272.5,337.2 272.5,409.1 272.6,409.5 272.6,409.8 272.6,410.0 272.7,410.2 272.7,410.4 272.8,410.6 289.5,434.0 289.6,434.2 289.7,434.2 312.6,434.2 312.6,296.5 278.9,296.5 278.9,327.4 278.8,327.5 278.8,327.6" fill="#1414a8" stroke="#000" stroke-width="0.7" stroke-linejoin="round"/>
<polygon points="273.4,408.3 289.7,431.4 312.6,431.4 312.6,296.5 279.7,296.5 279.7,327.4 279.7,327.7 279.7,327.8 279.6,328.9 279.5,330.0 279.3,331.0 279.1,331.9 278.8,332.5 278.4,332.9 278.4,332.9 278.3,333.0 274.2,335.7 273.4,337.8" fill="#1122ee" stroke="#000" stroke-width="0.7" stroke-linejoin="round"/>
<polygon points="289.9,428.6 312.6,428.6 312.6,296.5 280.6,296.5 280.6,327.4 280.5,327.8 280.5,327.9 280.5,329.7 280.3,331.3 280.0,332.8 279.6,334.1 279.1,335.0 278.6,335.6 278.6,335.7 278.5,335.8 274.6,338.4 274.2,339.2 274.2,406.5" fill="#1166ff" stroke="#000" stroke-width="0.7" stroke-linejoin="round"/>
<polygon points="290.1,425.8 312.6,425.8 312.6,296.5 281.4,296.5 281.4,327.4 281.4,327.9 281.4,328.0 281.3,330.4 281.0,332.6 280.6,334.6 280.1,336.3 279.5,337.5 278.8,338.4 278.8,338.4 278.6,338.5 275.1,340.9 275.1,404.6" fill="#00aaee" stroke="#000" stroke-width="0.7" stroke-linejoin="round"/>
<polygon points="290.3,423.0 312.6,423.0 312.6,296.5 282.2,296.5 282.2,327.4 282.2,328.1 282.2,328.2 282.1,331.1 281.8,333.9 281.3,336.4 280.6,338.4 279.9,340.0 279.0,341.1 279.0,341.1 278.8,341.2 275.9,343.2 275.9,402.8" fill="#00cccc" stroke="#000" stroke-width="0.7" stroke-linejoin="round"/>
<polygon points="290.4,420.2 312.6,420.2 312.6,296.5 283.1,296.5 283.1,327.4 283.1,328.2 283.1,328.3 282.9,331.8 282.5,335.2 281.9,338.1 281.2,340.6 280.3,342.5 279.3,343.8 279.2,343.8 279.0,344.0 276.8,345.4 276.8,400.9" fill="#11e8bb" stroke="#000" stroke-width="0.7" stroke-linejoin="round"/>
<polygon points="290.6,417.4 312.6,417.4 312.6,296.5 283.9,296.5 283.9,327.4 283.9,328.4 283.9,328.5 283.7,332.6 283.3,336.4 282.6,339.9 281.7,342.8 280.6,345.1 279.5,346.5 279.4,346.5 279.1,346.7 277.6,347.7 277.6,399.1" fill="#33ee77" stroke="#000" stroke-width="0.7" stroke-linejoin="round"/>
<polygon points="290.8,414.6 312.6,414.6 312.6,296.5 284.8,296.5 284.8,327.4 284.8,328.5 284.8,328.6 284.6,333.3 284.1,337.7 283.3,341.7 282.2,345.0 281.0,347.6 279.7,349.2 279.6,349.2 279.3,349.5 278.5,350.0 278.5,397.2" fill="#99ee00" stroke="#000" stroke-width="0.7" stroke-linejoin="round"/>
<clipPath id="cl6"><polygon points="290.8,414.6 312.6,414.6 312.6,296.5 284.8,296.5 284.8,327.4 284.8,328.5 284.8,328.6 284.6,333.3 284.1,337.7 283.3,341.7 282.2,345.0 281.0,347.6 279.7,349.2 279.6,349.2 279.3,349.5 278.5,350.0 278.5,397.2"/></clipPath>
<g clip-path="url(#cl6)">
<polygon points="270.0,296.5 312.6,296.5 312.6,411.0 270.0,411.0" fill="#11e8bb"/>
<polygon points="286.0,300.0 297.0,300.0 297.0,330.0 295.0,347.0 290.0,347.0 286.0,330.0" fill="#3aee99" stroke="#000" stroke-width="0.8" stroke-linejoin="round"/>
<polygon points="300.0,300.0 312.6,300.0 312.6,340.0 306.0,335.0 302.0,318.0" fill="#33ee77" stroke="#000" stroke-width="0.8" stroke-linejoin="round"/>
<polygon points="303.5,300.0 312.6,300.0 312.6,336.0 308.0,328.0 305.0,315.0" fill="#ccf000" stroke="#000" stroke-width="0.8" stroke-linejoin="round"/>
<polygon points="306.0,300.0 312.6,300.0 312.6,332.0 309.5,322.0 307.0,312.0" fill="#ffee00" stroke="#000" stroke-width="0.8" stroke-linejoin="round"/>
<polygon points="308.0,300.0 312.6,300.0 312.6,325.0 310.5,316.0" fill="#ffcc00" stroke="#000" stroke-width="0.8" stroke-linejoin="round"/>
<polygon points="310.0,300.0 312.6,300.0 312.6,318.0 311.0,310.0" fill="#ff9a00" stroke="#000" stroke-width="0.8" stroke-linejoin="round"/>
<polygon points="270.0,296.5 312.6,296.5 312.6,300.0 270.0,300.0" fill="#00cccc"/>
<path d="M270 298H312.6" stroke="#000" stroke-width="0.6"/>
<path d="M270 300H312.6" stroke="#000" stroke-width="0.6"/>
<polygon points="289.0,362.0 297.4,364.7 303.0,361.8 312.6,360.0 312.6,415.0 289.0,415.0" fill="#3aee99" stroke="#000" stroke-width="0.8" stroke-linejoin="round"/>
<polygon points="270.0,384.0 278.7,384.8 288.0,378.0 297.4,385.0 303.0,383.0 307.0,395.0 312.6,398.0 312.6,415.0 270.0,415.0" fill="#a8ee10" stroke="#000" stroke-width="0.8" stroke-linejoin="round"/>
</g>
<polygon points="278.0,296.5 282.8,296.5 282.8,330.0 281.0,340.0 282.0,376.0 282.5,405.0 278.0,408.0 274.6,404.0 274.6,345.0 276.0,335.0 278.0,330.0" fill="#000000"/>
<rect x="575.2" y="436" width="7" height="6" fill="#4a0a90" stroke="#000" stroke-width="0.6"/>
<polygon points="615.1,436.8 616.0,436.6 616.8,436.1 617.5,435.2 618.2,434.0 618.8,432.5 619.2,430.9 619.4,429.1 619.5,427.2 619.5,296.5 571.6,296.5 571.6,436.8" fill="#28083c" stroke="#000" stroke-width="0.7" stroke-linejoin="round"/>
<polygon points="615.0,434.4 615.7,434.3 616.4,433.8 616.9,433.2 617.4,432.3 617.8,431.2 618.1,430.0 618.3,428.6 618.4,427.1 618.4,296.5 571.6,296.5 571.6,434.4" fill="#4a0a90" stroke="#000" stroke-width="0.7" stroke-linejoin="round"/>
<polygon points="615.0,432.0 615.5,431.9 615.9,431.6 616.3,431.2 616.6,430.6 616.9,429.9 617.1,429.0 617.2,428.1 617.3,427.0 617.3,296.5 571.6,296.5 571.6,432.0" fill="#1414a8" stroke="#000" stroke-width="0.7" stroke-linejoin="round"/>
<polygon points="614.9,429.6 615.3,429.5 615.5,429.4 615.7,429.2 615.9,428.9 616.0,428.5 616.1,428.1 616.2,427.7 616.2,426.8 616.2,296.5 571.6,296.5 571.6,429.6" fill="#1122ee" stroke="#000" stroke-width="0.7" stroke-linejoin="round"/>
<polygon points="614.9,427.2 615.1,427.2 615.1,426.7 615.1,296.5 571.6,296.5 571.6,427.2" fill="#1166ff" stroke="#000" stroke-width="0.7" stroke-linejoin="round"/>
<polygon points="614.0,424.8 614.0,296.5 571.6,296.5 571.6,424.8" fill="#00aaee" stroke="#000" stroke-width="0.7" stroke-linejoin="round"/>
<polygon points="612.9,422.4 612.9,296.5 571.6,296.5 571.6,422.4" fill="#00cccc" stroke="#000" stroke-width="0.7" stroke-linejoin="round"/>
<polygon points="611.8,420.0 611.8,296.5 571.6,296.5 571.6,420.0" fill="#11e8bb" stroke="#000" stroke-width="0.7" stroke-linejoin="round"/>
<polygon points="610.7,417.6 610.7,296.5 571.6,296.5 571.6,417.6" fill="#33ee77" stroke="#000" stroke-width="0.7" stroke-linejoin="round"/>
<clipPath id="cl7"><polygon points="610.7,417.6 610.7,296.5 571.6,296.5 571.6,417.6"/></clipPath>
<g clip-path="url(#cl7)">
<polygon points="572.0,296.5 611.0,296.5 611.0,416.0 572.0,416.0" fill="#11e8bb"/>
<polygon points="572.0,302.5 587.0,302.5 590.0,315.0 587.0,333.4 580.0,336.0 572.0,333.0" fill="#00aaee" stroke="#000" stroke-width="0.8" stroke-linejoin="round"/>
<polygon points="587.0,302.5 594.0,302.5 594.0,326.0 588.0,333.0 585.0,330.0 589.0,315.0" fill="#00cccc" stroke="#000" stroke-width="0.8" stroke-linejoin="round"/>
<polygon points="572.0,333.0 580.0,336.0 586.0,340.0 586.0,356.0 575.0,360.0 572.0,350.0" fill="#00cccc" stroke="#000" stroke-width="0.8" stroke-linejoin="round"/>
<polygon points="588.5,330.0 595.0,326.4 601.2,335.0 601.2,348.0 597.0,353.2 590.0,352.0 588.5,340.0" fill="#00aaee" stroke="#000" stroke-width="0.8" stroke-linejoin="round"/>
<polygon points="591.0,333.0 596.0,331.0 598.5,340.0 596.0,347.0 592.0,345.0" fill="#1166ff" stroke="#000" stroke-width="0.8" stroke-linejoin="round"/>
<polygon points="600.0,348.0 609.0,346.0 609.0,372.0 602.0,373.0 599.0,362.0" fill="#55ee77" stroke="#000" stroke-width="0.8" stroke-linejoin="round"/>
<polygon points="579.0,368.0 588.0,361.0 596.0,366.0 598.0,380.0 594.0,392.0 584.0,390.0 579.0,382.0" fill="#18b8e8" stroke="#000" stroke-width="0.8" stroke-linejoin="round"/>
<polygon points="572.0,380.0 576.0,378.0 580.0,392.0 590.0,400.0 604.0,402.0 608.0,405.0 608.0,416.0 572.0,416.0" fill="#33ee77" stroke="#000" stroke-width="0.8" stroke-linejoin="round"/>
<polygon points="574.5,405.4 590.0,402.0 604.0,408.0 604.0,416.0 574.5,416.0" fill="#99ee00" stroke="#000" stroke-width="0.8" stroke-linejoin="round"/>
<polygon points="571.2,387.0 574.0,387.0 577.3,395.0 577.3,412.5 571.2,412.5" fill="#ffee00" stroke="#000" stroke-width="0.8" stroke-linejoin="round"/>
<polygon points="571.2,335.0 574.5,335.0 574.5,370.0 573.0,380.0 571.2,385.0" fill="#ccf000" stroke="#000" stroke-width="0.8" stroke-linejoin="round"/>
<polygon points="572.0,296.5 611.0,296.5 611.0,302.5 572.0,302.5" fill="#1166ff" stroke="#000" stroke-width="0.8" stroke-linejoin="round"/>
<polygon points="572.0,296.5 611.0,296.5 611.0,299.0 572.0,299.0" fill="#1122ee"/>
</g>
<polygon points="610.2,296.5 617.0,296.5 617.0,405.0 614.6,410.0 611.5,412.0 610.2,408.0" fill="#000000"/>
<g transform="translate(480,0)">
<polygon points="186.7,336.3 186.7,421.0 186.9,422.8 187.6,424.5 188.8,425.9 190.2,427.1 191.9,427.8 193.7,428.0 198.2,428.0 199.0,427.9 199.7,427.6 200.3,427.1 200.8,426.5 201.1,425.8 201.2,425.0 201.2,332.3 201.1,331.5 200.8,330.8 200.3,330.2 199.7,329.7 199.0,329.4 198.2,329.3 193.7,329.3 191.9,329.5 190.2,330.2 188.8,331.4 187.6,332.8 186.9,334.5" fill="#4a0a90" stroke="#000" stroke-width="0.7" stroke-linejoin="round"/>
<polygon points="187.5,420.5 187.6,421.2 188.1,422.2 189.0,423.5 190.4,424.5 192.0,425.2 193.7,425.4 201.1,425.4 201.2,425.0 201.2,332.3 201.1,331.9 193.7,331.9 192.0,332.1 190.4,332.8 189.0,333.8 188.1,335.1 187.6,336.1 187.5,336.8" fill="#1414a8" stroke="#000" stroke-width="0.7" stroke-linejoin="round"/>
<polygon points="188.4,419.7 188.5,420.0 189.3,421.0 190.5,421.9 192.0,422.6 193.7,422.8 201.2,422.8 201.2,334.5 193.7,334.5 192.0,334.7 190.5,335.4 189.3,336.3 188.5,337.3 188.4,337.6" fill="#1122ee" stroke="#000" stroke-width="0.7" stroke-linejoin="round"/>
<polygon points="189.2,418.1 189.6,418.5 190.7,419.4 192.1,420.0 193.8,420.2 201.2,420.2 201.2,337.1 193.8,337.1 192.1,337.3 190.7,337.9 189.6,338.8 189.2,339.2" fill="#1166ff" stroke="#000" stroke-width="0.7" stroke-linejoin="round"/>
<polygon points="190.1,416.3 190.8,416.8 192.2,417.4 193.8,417.6 201.2,417.6 201.2,339.7 193.8,339.7 192.2,339.9 190.8,340.5 190.1,341.0" fill="#00aaee" stroke="#000" stroke-width="0.7" stroke-linejoin="round"/>
<polygon points="190.9,414.2 191.0,414.3 192.3,414.8 193.8,415.0 201.2,415.0 201.2,342.3 193.8,342.3 192.3,342.5 191.0,343.0 190.9,343.1" fill="#00cccc" stroke="#000" stroke-width="0.7" stroke-linejoin="round"/>
<polygon points="191.8,412.0 192.3,412.2 193.8,412.4 201.2,412.4 201.2,344.9 193.8,344.9 192.3,345.1 191.8,345.3" fill="#11e8bb" stroke="#000" stroke-width="0.7" stroke-linejoin="round"/>
<clipPath id="cl8"><polygon points="191.8,412.0 192.3,412.2 193.8,412.4 201.2,412.4 201.2,344.9 193.8,344.9 192.3,345.1 191.8,345.3"/></clipPath>
<g clip-path="url(#cl8)">
<polygon points="185.0,340.0 202.0,340.0 202.0,420.0 185.0,420.0" fill="#00cccc"/>
<polygon points="191.0,350.0 202.0,350.0 202.0,400.0 191.0,400.0" fill="#11e8bb" stroke="#000" stroke-width="0.8" stroke-linejoin="round"/>
<polygon points="196.0,356.0 202.0,356.0 202.0,392.0 197.0,392.0" fill="#55ee66" stroke="#000" stroke-width="0.8" stroke-linejoin="round"/>
<polygon points="198.0,362.0 202.0,362.0 202.0,386.0 198.5,386.0" fill="#ccf000" stroke="#000" stroke-width="0.8" stroke-linejoin="round"/>
</g>
<polygon points="191.8,352.0 193.3,350.0 193.8,405.0 192.5,412.0 191.5,405.0" fill="#000000"/>
</g>
<g transform="translate(480,0)">
<polygon points="209.2,329.3 207.6,329.5 206.2,330.1 205.0,331.1 204.0,332.3 203.4,333.7 203.2,335.3 203.2,422.4 203.4,424.0 204.0,425.4 205.0,426.6 206.2,427.6 207.6,428.2 209.2,428.4 232.5,428.4 234.1,428.2 235.5,427.6 236.7,426.6 237.7,425.4 238.3,424.0 238.5,422.4 238.5,335.3 238.3,333.7 237.7,332.3 236.7,331.1 235.5,330.1 234.1,329.5 232.5,329.3" fill="#4a0a90" stroke="#000" stroke-width="0.7" stroke-linejoin="round"/>
<polygon points="232.5,425.0 234.0,424.8 235.3,424.2 236.4,423.4 237.2,422.4 237.4,421.8 237.5,421.7 237.5,336.0 237.4,335.9 237.2,335.3 236.4,334.3 235.3,333.5 234.0,332.9 232.5,332.7 203.8,332.7 203.4,333.7 203.2,335.3 203.2,422.4 203.4,424.0 203.8,425.0" fill="#1414a8" stroke="#000" stroke-width="0.7" stroke-linejoin="round"/>
<polygon points="232.5,421.6 233.9,421.4 235.1,420.9 236.1,420.1 236.4,419.8 236.4,337.9 236.1,337.6 235.1,336.8 233.9,336.3 232.5,336.1 203.2,336.1 203.2,421.6" fill="#1122ee" stroke="#000" stroke-width="0.7" stroke-linejoin="round"/>
<polygon points="232.4,418.2 233.8,418.0 234.9,417.5 235.3,417.2 235.3,340.5 234.9,340.2 233.8,339.7 232.4,339.5 203.2,339.5 203.2,418.2" fill="#1166ff" stroke="#000" stroke-width="0.7" stroke-linejoin="round"/>
<polygon points="232.4,414.8 233.7,414.6 234.3,414.4 234.3,343.3 233.7,343.1 232.4,342.9 203.2,342.9 203.2,414.8" fill="#00aaee" stroke="#000" stroke-width="0.7" stroke-linejoin="round"/>
<polygon points="232.4,411.4 233.2,411.3 233.2,346.4 232.4,346.3 203.2,346.3 203.2,411.4" fill="#00cccc" stroke="#000" stroke-width="0.7" stroke-linejoin="round"/>
<clipPath id="cl9"><polygon points="232.4,411.4 233.2,411.3 233.2,346.4 232.4,346.3 203.2,346.3 203.2,411.4"/></clipPath>
<g clip-path="url(#cl9)">
<polygon points="200.0,350.0 232.0,350.0 232.0,410.0 200.0,410.0" fill="#11e8bb"/>
<polygon points="200.0,340.0 232.0,340.0 232.0,375.0 222.0,377.0 210.0,375.0 200.0,379.0" fill="#33ee77" stroke="#000" stroke-width="0.8" stroke-linejoin="round"/>
<polygon points="200.0,340.0 232.0,340.0 232.0,369.0 224.0,371.0 216.0,368.0 208.0,371.0 200.0,373.0" fill="#99ee00" stroke="#000" stroke-width="0.8" stroke-linejoin="round"/>
<polygon points="200.0,340.0 232.0,340.0 232.0,364.0 225.0,365.0 220.0,361.0 214.0,364.0 208.0,361.0 200.0,365.0" fill="#ccf000" stroke="#000" stroke-width="0.8" stroke-linejoin="round"/>
<polygon points="200.0,340.0 232.0,340.0 232.0,359.0 225.0,360.0 220.0,356.0 214.0,359.0 208.0,356.0 200.0,359.0" fill="#ffee00" stroke="#000" stroke-width="0.8" stroke-linejoin="round"/>
<polygon points="200.0,340.0 232.0,340.0 232.0,352.0 225.0,353.0 218.0,350.0 210.0,352.0 200.0,351.0" fill="#ffdd00" stroke="#000" stroke-width="0.8" stroke-linejoin="round"/>
<polygon points="200.0,343.0 206.0,343.0 205.5,354.0 203.0,357.0 200.0,357.0" fill="#ffcc00" stroke="#000" stroke-width="0.8" stroke-linejoin="round"/>
<polygon points="208.0,381.0 214.0,379.0 222.0,382.0 229.0,381.0 229.0,405.0 208.0,405.0" fill="#11e0c8" stroke="#000" stroke-width="0.8" stroke-linejoin="round"/>
</g>
</g>
<polygon points="710.0,344.0 714.5,344.0 714.5,376.0 710.0,376.0" fill="#000000"/>
<polygon points="758.0,327.5 753.8,330.3 753.5,330.6 753.3,331.1 752.2,333.7 752.0,334.2 751.9,334.9 751.8,335.6 751.7,336.4 751.7,337.2 751.7,409.1 751.7,409.9 751.8,410.8 751.9,411.5 752.1,412.2 752.3,412.7 752.5,413.1 769.2,436.7 769.4,436.9 769.7,437.0 792.6,437.0 792.6,296.5 758.0,296.5 758.0,327.4 758.0,327.5" fill="#4a0a90" stroke="#000" stroke-width="0.7" stroke-linejoin="round"/>
<polygon points="758.8,328.2 758.8,328.7 758.7,329.1 758.6,329.5 758.5,329.9 758.3,330.1 758.2,330.3 758.2,330.3 758.1,330.4 754.0,333.1 753.9,333.3 753.7,333.5 752.8,336.0 752.7,336.2 752.6,336.4 752.6,336.7 752.6,336.9 752.6,337.3 752.6,409.0 752.6,409.4 752.6,409.6 752.6,409.9 752.7,410.1 752.7,410.3 752.9,410.5 769.5,433.9 769.6,434.1 769.7,434.1 792.6,434.1 792.6,296.5 758.9,296.5 758.9,327.4 758.8,327.5 758.8,327.6" fill="#1414a8" stroke="#000" stroke-width="0.7" stroke-linejoin="round"/>
<polygon points="753.4,408.1 769.7,431.2 792.6,431.2 792.6,296.5 759.7,296.5 759.7,327.4 759.7,327.7 759.7,327.8 759.7,328.8 759.6,329.8 759.4,330.8 759.2,331.6 759.0,332.3 758.7,332.8 758.4,333.1 758.4,333.2 758.3,333.2 754.2,335.9 753.4,337.9" fill="#1122ee" stroke="#000" stroke-width="0.7" stroke-linejoin="round"/>
<polygon points="769.9,428.3 792.6,428.3 792.6,296.5 760.5,296.5 760.5,327.4 760.5,327.8 760.5,327.9 760.5,329.5 760.3,331.0 760.1,332.4 759.8,333.6 759.5,334.6 759.0,335.4 758.6,335.9 758.6,336.0 758.5,336.1 754.5,338.7 754.3,339.4 754.3,406.2" fill="#1166ff" stroke="#000" stroke-width="0.7" stroke-linejoin="round"/>
<polygon points="770.1,425.4 792.6,425.4 792.6,296.5 761.4,296.5 761.4,327.4 761.4,328.0 761.4,328.1 761.3,330.2 761.1,332.2 760.8,334.0 760.4,335.7 759.9,337.0 759.4,338.1 758.8,338.8 758.8,338.8 758.6,338.9 755.1,341.3 755.1,404.2" fill="#00aaee" stroke="#000" stroke-width="0.7" stroke-linejoin="round"/>
<polygon points="770.2,422.5 792.6,422.5 792.6,296.5 762.2,296.5 762.2,327.4 762.2,328.1 762.2,328.2 762.1,330.8 761.9,333.3 761.5,335.7 761.0,337.7 760.4,339.4 759.8,340.7 759.0,341.6 759.0,341.6 758.8,341.8 756.0,343.6 756.0,402.3" fill="#00cccc" stroke="#000" stroke-width="0.7" stroke-linejoin="round"/>
<polygon points="770.4,419.6 792.6,419.6 792.6,296.5 763.1,296.5 763.1,327.4 763.1,328.2 763.1,328.4 763.0,331.5 762.7,334.5 762.2,337.3 761.6,339.7 760.9,341.8 760.1,343.3 759.2,344.4 759.2,344.4 758.9,344.6 756.8,346.0 756.8,400.4" fill="#11e8bb" stroke="#000" stroke-width="0.7" stroke-linejoin="round"/>
<polygon points="770.6,416.7 792.6,416.7 792.6,296.5 763.9,296.5 763.9,327.4 763.9,328.4 763.9,328.5 763.8,332.2 763.4,335.7 762.9,338.9 762.2,341.8 761.4,344.2 760.5,346.0 759.4,347.2 759.4,347.2 759.1,347.4 757.7,348.4 757.7,398.4" fill="#33ee77" stroke="#000" stroke-width="0.7" stroke-linejoin="round"/>
<clipPath id="cl10"><polygon points="770.6,416.7 792.6,416.7 792.6,296.5 763.9,296.5 763.9,327.4 763.9,328.4 763.9,328.5 763.8,332.2 763.4,335.7 762.9,338.9 762.2,341.8 761.4,344.2 760.5,346.0 759.4,347.2 759.4,347.2 759.1,347.4 757.7,348.4 757.7,398.4"/></clipPath>
<g clip-path="url(#cl10)">
<polygon points="750.0,296.5 792.6,296.5 792.6,416.0 750.0,416.0" fill="#11e8bb"/>
<polygon points="767.2,302.5 792.6,302.5 792.6,361.0 785.0,352.0 775.0,342.0 767.2,335.0" fill="#33ee77" stroke="#000" stroke-width="0.8" stroke-linejoin="round"/>
<polygon points="767.2,302.5 792.6,302.5 792.6,356.0 785.0,347.0 775.0,337.0 767.2,330.0" fill="#99ee00" stroke="#000" stroke-width="0.8" stroke-linejoin="round"/>
<polygon points="767.2,302.5 792.6,302.5 792.6,351.0 785.0,342.0 775.0,332.0 767.2,325.0" fill="#ccf000" stroke="#000" stroke-width="0.8" stroke-linejoin="round"/>
<polygon points="767.2,302.5 792.6,302.5 792.6,346.0 785.0,337.0 775.0,327.0 767.2,320.0" fill="#ffee00" stroke="#000" stroke-width="0.8" stroke-linejoin="round"/>
<polygon points="767.2,302.5 792.6,302.5 792.6,341.0 785.0,332.0 775.0,322.0 768.0,315.0" fill="#ffcc00" stroke="#000" stroke-width="0.8" stroke-linejoin="round"/>
<polygon points="767.5,302.5 792.6,302.5 792.6,337.0 786.0,328.0 777.0,318.0 769.0,310.0" fill="#ff9a00" stroke="#000" stroke-width="0.8" stroke-linejoin="round"/>
<polygon points="768.0,302.5 792.6,302.5 792.6,333.0 787.0,325.0 779.0,314.0 770.0,306.0" fill="#dc7035" stroke="#000" stroke-width="0.8" stroke-linejoin="round"/>
<polygon points="780.6,305.0 790.5,305.0 790.5,333.4 786.0,330.0 781.0,318.0" fill="#c84a55" stroke="#000" stroke-width="0.8" stroke-linejoin="round"/>
<path d="M783 303V322" stroke="#000" stroke-width="1"/>
<path d="M787.5 303V318" stroke="#000" stroke-width="1"/>
<path d="M776 303V312" stroke="#000" stroke-width="1"/>
<path d="M771 303V310" stroke="#000" stroke-width="1"/>
<polygon points="760.0,296.5 792.6,296.5 792.6,302.5 760.0,302.5" fill="#ffee00"/>
<path d="M760 298.5H792.6" stroke="#000" stroke-width="0.6"/>
<path d="M760 300.5H792.6" stroke="#000" stroke-width="0.6"/>
<path d="M760 302.5H792.6" stroke="#000" stroke-width="0.6"/>
<polygon points="773.6,360.0 780.0,357.4 790.0,358.0 792.6,362.0 792.6,377.0 785.0,378.7 775.0,377.0 773.0,370.0" fill="#00cccc" stroke="#000" stroke-width="0.8" stroke-linejoin="round"/>
<polygon points="763.0,349.0 765.5,347.0 768.0,352.0 768.0,366.0 764.0,367.0" fill="#33ee77" stroke="#000" stroke-width="0.8" stroke-linejoin="round"/>
<polygon points="750.0,390.0 765.0,388.0 772.0,384.0 780.0,385.0 792.6,384.0 792.6,416.0 750.0,416.0" fill="#33ee77" stroke="#000" stroke-width="0.8" stroke-linejoin="round"/>
<polygon points="771.0,392.0 778.0,391.0 784.0,395.0 786.0,404.0 792.6,408.0 792.6,416.0 772.0,416.0 769.0,400.0" fill="#88ee22" stroke="#000" stroke-width="0.8" stroke-linejoin="round"/>
<polygon points="786.0,398.0 792.6,396.0 792.6,412.0 788.0,412.0 786.0,405.0" fill="#ccf000" stroke="#000" stroke-width="0.8" stroke-linejoin="round"/>
<polygon points="787.0,404.0 789.0,402.0 790.0,406.0 788.0,407.0" fill="#ff9a00" stroke="#000" stroke-width="0.8" stroke-linejoin="round"/>
</g>
<polygon points="758.0,296.5 767.2,296.5 767.2,329.0 761.6,332.0 761.6,400.0 758.5,402.0 757.5,340.0 758.0,330.0" fill="#000000"/>
<path d="M67 26.5H336M67 215.5H337M67.5 26V215M336.5 26V215M67 215.5h7M337 215.5h-7M67 212.5h4M337 212.5h-4M67 209.5h4M337 209.5h-4M67 206.5h4M337 206.5h-4M67 202.5h4M337 202.5h-4M67 199.5h4M337 199.5h-4M67 196.5h4M337 196.5h-4M67 193.5h4M337 193.5h-4M67 190.5h4M337 190.5h-4M67 187.5h4M337 187.5h-4M67 184.5h7M337 184.5h-7M67 180.5h4M337 180.5h-4M67 177.5h4M337 177.5h-4M67 174.5h4M337 174.5h-4M67 171.5h4M337 171.5h-4M67 168.5h4M337 168.5h-4M67 165.5h4M337 165.5h-4M67 161.5h4M337 161.5h-4M67 158.5h4M337 158.5h-4M67 155.5h4M337 155.5h-4M67 152.5h7M337 152.5h-7M67 149.5h4M337 149.5h-4M67 146.5h4M337 146.5h-4M67 143.5h4M337 143.5h-4M67 139.5h4M337 139.5h-4M67 136.5h4M337 136.5h-4M67 133.5h4M337 133.5h-4M67 130.5h4M337 130.5h-4M67 127.5h4M337 127.5h-4M67 124.5h4M337 124.5h-4M67 120.5h7M337 120.5h-7M67 117.5h4M337 117.5h-4M67 114.5h4M337 114.5h-4M67 111.5h4M337 111.5h-4M67 108.5h4M337 108.5h-4M67 105.5h4M337 105.5h-4M67 102.5h4M337 102.5h-4M67 98.5h4M337 98.5h-4M67 95.5h4M337 95.5h-4M67 92.5h4M337 92.5h-4M67 89.5h7M337 89.5h-7M67 86.5h4M337 86.5h-4M67 83.5h4M337 83.5h-4M67 80.5h4M337 80.5h-4M67 76.5h4M337 76.5h-4M67 73.5h4M337 73.5h-4M67 70.5h4M337 70.5h-4M67 67.5h4M337 67.5h-4M67 64.5h4M337 64.5h-4M67 61.5h4M337 61.5h-4M67 58.5h7M337 58.5h-7M67 54.5h4M337 54.5h-4M67 51.5h4M337 51.5h-4M67 48.5h4M337 48.5h-4M67 45.5h4M337 45.5h-4M67 42.5h4M337 42.5h-4M67 39.5h4M337 39.5h-4M67 35.5h4M337 35.5h-4M67 32.5h4M337 32.5h-4M67 29.5h4M337 29.5h-4M67 26.5h7M337 26.5h-7M134.5 215v-4M134.5 26v5M202.5 215v-4M202.5 26v5M269.5 215v-4M269.5 26v5" stroke="#000" stroke-width="1" fill="none"/>
<rect x="374.5" y="27.20" width="28.0" height="9.70" fill="#ff55ff"/>
<rect x="374.5" y="36.60" width="28.0" height="9.70" fill="#ff22bb"/>
<rect x="374.5" y="46.00" width="28.0" height="9.70" fill="#ff0a6e"/>
<rect x="374.5" y="55.40" width="28.0" height="9.70" fill="#e22d5f"/>
<rect x="374.5" y="64.80" width="28.0" height="9.70" fill="#c84a55"/>
<rect x="374.5" y="74.20" width="28.0" height="9.70" fill="#dc7035"/>
<rect x="374.5" y="83.60" width="28.0" height="9.70" fill="#ff9a00"/>
<rect x="374.5" y="93.00" width="28.0" height="9.70" fill="#ffcc00"/>
<rect x="374.5" y="102.40" width="28.0" height="9.70" fill="#ffee00"/>
<rect x="374.5" y="111.80" width="28.0" height="9.70" fill="#ccf000"/>
<rect x="374.5" y="121.20" width="28.0" height="9.70" fill="#99ee00"/>
<rect x="374.5" y="130.60" width="28.0" height="9.70" fill="#33ee77"/>
<rect x="374.5" y="140.00" width="28.0" height="9.70" fill="#11e8bb"/>
<rect x="374.5" y="149.40" width="28.0" height="9.70" fill="#00cccc"/>
<rect x="374.5" y="158.80" width="28.0" height="9.70" fill="#00aaee"/>
<rect x="374.5" y="168.20" width="28.0" height="9.70" fill="#1166ff"/>
<rect x="374.5" y="177.60" width="28.0" height="9.70" fill="#1122ee"/>
<rect x="374.5" y="187.00" width="28.0" height="9.70" fill="#1414a8"/>
<rect x="374.5" y="196.40" width="28.0" height="9.70" fill="#4a0a90"/>
<rect x="374.5" y="205.80" width="28.0" height="9.70" fill="#28083c"/>
<rect x="374.5" y="27.2" width="28.0" height="188.0" fill="none" stroke="#000" stroke-width="1"/>
<path d="M402.5 50.7h-6M402.5 74.2h-6M402.5 97.7h-6M402.5 121.2h-6M402.5 144.7h-6M402.5 168.2h-6M402.5 191.7h-6" stroke="#000" stroke-width="1"/>
<text x="443.5" y="0" transform="translate(0,28.7) scale(1,1.3)" text-anchor="end">200.0</text>
<text x="443.5" y="0" transform="translate(0,52.2) scale(1,1.3)" text-anchor="end">150.0</text>
<text x="443.5" y="0" transform="translate(0,75.7) scale(1,1.3)" text-anchor="end">100.0</text>
<text x="443.5" y="0" transform="translate(0,99.2) scale(1,1.3)" text-anchor="end">50.0</text>
<text x="443.5" y="0" transform="translate(0,122.7) scale(1,1.3)" text-anchor="end">0.0</text>
<text x="443.5" y="0" transform="translate(0,146.2) scale(1,1.3)" text-anchor="end">-50.0</text>
<text x="443.5" y="0" transform="translate(0,169.7) scale(1,1.3)" text-anchor="end">-100.0</text>
<text x="443.5" y="0" transform="translate(0,193.2) scale(1,1.3)" text-anchor="end">-150.0</text>
<text x="443.5" y="0" transform="translate(0,216.7) scale(1,1.3)" text-anchor="end">-200.0</text>
<text x="202.5" y="0" transform="translate(0,19.5) scale(1,1.3)" text-anchor="middle">Inverted Winds Meridional (coldside)</text>
<text x="64" y="0" transform="translate(0,33.3) scale(1,1.3)" text-anchor="end">120</text>
<text x="64" y="0" transform="translate(0,63.3) scale(1,1.3)" text-anchor="end">110</text>
<text x="64" y="0" transform="translate(0,93.3) scale(1,1.3)" text-anchor="end">100</text>
<text x="64" y="0" transform="translate(0,124.8) scale(1,1.3)" text-anchor="end">90</text>
<text x="64" y="0" transform="translate(0,155.8) scale(1,1.3)" text-anchor="end">80</text>
<text x="64" y="0" transform="translate(0,186.8) scale(1,1.3)" text-anchor="end">70</text>
<text x="64" y="0" transform="translate(0,214.8) scale(1,1.3)" text-anchor="end">60</text>
<text x="36.5" y="0" transform="translate(0,54.5) scale(1,1.3)" text-anchor="middle">A</text>
<text x="36.5" y="0" transform="translate(0,64.5) scale(1,1.3)" text-anchor="middle">l</text>
<text x="36.5" y="0" transform="translate(0,74.5) scale(1,1.3)" text-anchor="middle">t</text>
<text x="36.5" y="0" transform="translate(0,84.5) scale(1,1.3)" text-anchor="middle">i</text>
<text x="36.5" y="0" transform="translate(0,94.5) scale(1,1.3)" text-anchor="middle">t</text>
<text x="36.5" y="0" transform="translate(0,104.5) scale(1,1.3)" text-anchor="middle">u</text>
<text x="36.5" y="0" transform="translate(0,114.5) scale(1,1.3)" text-anchor="middle">d</text>
<text x="36.5" y="0" transform="translate(0,124.5) scale(1,1.3)" text-anchor="middle">e</text>
<text x="36.5" y="0" transform="translate(0,144.5) scale(1,1.3)" text-anchor="middle">(</text>
<text x="36.5" y="0" transform="translate(0,154.5) scale(1,1.3)" text-anchor="middle">k</text>
<text x="36.5" y="0" transform="translate(0,164.5) scale(1,1.3)" text-anchor="middle">m</text>
<text x="36.5" y="0" transform="translate(0,174.5) scale(1,1.3)" text-anchor="middle">)</text>
<text x="64" y="0" transform="translate(0,229.8) scale(1,1.3)" text-anchor="middle">-90</text>
<text x="134" y="0" transform="translate(0,229.8) scale(1,1.3)" text-anchor="middle">0</text>
<text x="201.5" y="0" transform="translate(0,229.8) scale(1,1.3)" text-anchor="middle">90</text>
<text x="269" y="0" transform="translate(0,229.8) scale(1,1.3)" text-anchor="middle">0</text>
<text x="333" y="0" transform="translate(0,229.8) scale(1,1.3)" text-anchor="middle">-90</text>
<text x="202.5" y="0" transform="translate(0,242.2) scale(1,1.3)" text-anchor="middle">Lat (deg)</text>
<path d="M547 26.5H816M547 215.5H817M547.5 26V215M816.5 26V215M547 215.5h7M817 215.5h-7M547 212.5h4M817 212.5h-4M547 209.5h4M817 209.5h-4M547 206.5h4M817 206.5h-4M547 202.5h4M817 202.5h-4M547 199.5h4M817 199.5h-4M547 196.5h4M817 196.5h-4M547 193.5h4M817 193.5h-4M547 190.5h4M817 190.5h-4M547 187.5h4M817 187.5h-4M547 184.5h7M817 184.5h-7M547 180.5h4M817 180.5h-4M547 177.5h4M817 177.5h-4M547 174.5h4M817 174.5h-4M547 171.5h4M817 171.5h-4M547 168.5h4M817 168.5h-4M547 165.5h4M817 165.5h-4M547 161.5h4M817 161.5h-4M547 158.5h4M817 158.5h-4M547 155.5h4M817 155.5h-4M547 152.5h7M817 152.5h-7M547 149.5h4M817 149.5h-4M547 146.5h4M817 146.5h-4M547 143.5h4M817 143.5h-4M547 139.5h4M817 139.5h-4M547 136.5h4M817 136.5h-4M547 133.5h4M817 133.5h-4M547 130.5h4M817 130.5h-4M547 127.5h4M817 127.5h-4M547 124.5h4M817 124.5h-4M547 120.5h7M817 120.5h-7M547 117.5h4M817 117.5h-4M547 114.5h4M817 114.5h-4M547 111.5h4M817 111.5h-4M547 108.5h4M817 108.5h-4M547 105.5h4M817 105.5h-4M547 102.5h4M817 102.5h-4M547 98.5h4M817 98.5h-4M547 95.5h4M817 95.5h-4M547 92.5h4M817 92.5h-4M547 89.5h7M817 89.5h-7M547 86.5h4M817 86.5h-4M547 83.5h4M817 83.5h-4M547 80.5h4M817 80.5h-4M547 76.5h4M817 76.5h-4M547 73.5h4M817 73.5h-4M547 70.5h4M817 70.5h-4M547 67.5h4M817 67.5h-4M547 64.5h4M817 64.5h-4M547 61.5h4M817 61.5h-4M547 58.5h7M817 58.5h-7M547 54.5h4M817 54.5h-4M547 51.5h4M817 51.5h-4M547 48.5h4M817 48.5h-4M547 45.5h4M817 45.5h-4M547 42.5h4M817 42.5h-4M547 39.5h4M817 39.5h-4M547 35.5h4M817 35.5h-4M547 32.5h4M817 32.5h-4M547 29.5h4M817 29.5h-4M547 26.5h7M817 26.5h-7M614.5 215v-4M614.5 26v5M682.5 215v-4M682.5 26v5M749.5 215v-4M749.5 26v5" stroke="#000" stroke-width="1" fill="none"/>
<rect x="845.5" y="27.20" width="28.0" height="9.70" fill="#ff55ff"/>
<rect x="845.5" y="36.60" width="28.0" height="9.70" fill="#ff22bb"/>
<rect x="845.5" y="46.00" width="28.0" height="9.70" fill="#ff0a6e"/>
<rect x="845.5" y="55.40" width="28.0" height="9.70" fill="#e22d5f"/>
<rect x="845.5" y="64.80" width="28.0" height="9.70" fill="#c84a55"/>
<rect x="845.5" y="74.20" width="28.0" height="9.70" fill="#dc7035"/>
<rect x="845.5" y="83.60" width="28.0" height="9.70" fill="#ff9a00"/>
<rect x="845.5" y="93.00" width="28.0" height="9.70" fill="#ffcc00"/>
<rect x="845.5" y="102.40" width="28.0" height="9.70" fill="#ffee00"/>
<rect x="845.5" y="111.80" width="28.0" height="9.70" fill="#ccf000"/>
<rect x="845.5" y="121.20" width="28.0" height="9.70" fill="#99ee00"/>
<rect x="845.5" y="130.60" width="28.0" height="9.70" fill="#33ee77"/>
<rect x="845.5" y="140.00" width="28.0" height="9.70" fill="#11e8bb"/>
<rect x="845.5" y="149.40" width="28.0" height="9.70" fill="#00cccc"/>
<rect x="845.5" y="158.80" width="28.0" height="9.70" fill="#00aaee"/>
<rect x="845.5" y="168.20" width="28.0" height="9.70" fill="#1166ff"/>
<rect x="845.5" y="177.60" width="28.0" height="9.70" fill="#1122ee"/>
<rect x="845.5" y="187.00" width="28.0" height="9.70" fill="#1414a8"/>
<rect x="845.5" y="196.40" width="28.0" height="9.70" fill="#4a0a90"/>
<rect x="845.5" y="205.80" width="28.0" height="9.70" fill="#28083c"/>
<rect x="845.5" y="27.2" width="28.0" height="188.0" fill="none" stroke="#000" stroke-width="1"/>
<path d="M873.5 50.7h-6M873.5 74.2h-6M873.5 97.7h-6M873.5 121.2h-6M873.5 144.7h-6M873.5 168.2h-6M873.5 191.7h-6" stroke="#000" stroke-width="1"/>
<text x="914.5" y="0" transform="translate(0,28.7) scale(1,1.3)" text-anchor="end">200.0</text>
<text x="914.5" y="0" transform="translate(0,52.2) scale(1,1.3)" text-anchor="end">150.0</text>
<text x="914.5" y="0" transform="translate(0,75.7) scale(1,1.3)" text-anchor="end">100.0</text>
<text x="914.5" y="0" transform="translate(0,99.2) scale(1,1.3)" text-anchor="end">50.0</text>
<text x="914.5" y="0" transform="translate(0,122.7) scale(1,1.3)" text-anchor="end">0.0</text>
<text x="914.5" y="0" transform="translate(0,146.2) scale(1,1.3)" text-anchor="end">-50.0</text>
<text x="914.5" y="0" transform="translate(0,169.7) scale(1,1.3)" text-anchor="end">-100.0</text>
<text x="914.5" y="0" transform="translate(0,193.2) scale(1,1.3)" text-anchor="end">-150.0</text>
<text x="914.5" y="0" transform="translate(0,216.7) scale(1,1.3)" text-anchor="end">-200.0</text>
<text x="682.5" y="0" transform="translate(0,19.5) scale(1,1.3)" text-anchor="middle">Inverted Winds Zonal (coldside)</text>
<text x="544" y="0" transform="translate(0,33.3) scale(1,1.3)" text-anchor="end">120</text>
<text x="544" y="0" transform="translate(0,63.3) scale(1,1.3)" text-anchor="end">110</text>
<text x="544" y="0" transform="translate(0,93.3) scale(1,1.3)" text-anchor="end">100</text>
<text x="544" y="0" transform="translate(0,124.8) scale(1,1.3)" text-anchor="end">90</text>
<text x="544" y="0" transform="translate(0,155.8) scale(1,1.3)" text-anchor="end">80</text>
<text x="544" y="0" transform="translate(0,186.8) scale(1,1.3)" text-anchor="end">70</text>
<text x="544" y="0" transform="translate(0,214.8) scale(1,1.3)" text-anchor="end">60</text>
<text x="516.5" y="0" transform="translate(0,54.5) scale(1,1.3)" text-anchor="middle">A</text>
<text x="516.5" y="0" transform="translate(0,64.5) scale(1,1.3)" text-anchor="middle">l</text>
<text x="516.5" y="0" transform="translate(0,74.5) scale(1,1.3)" text-anchor="middle">t</text>
<text x="516.5" y="0" transform="translate(0,84.5) scale(1,1.3)" text-anchor="middle">i</text>
<text x="516.5" y="0" transform="translate(0,94.5) scale(1,1.3)" text-anchor="middle">t</text>
<text x="516.5" y="0" transform="translate(0,104.5) scale(1,1.3)" text-anchor="middle">u</text>
<text x="516.5" y="0" transform="translate(0,114.5) scale(1,1.3)" text-anchor="middle">d</text>
<text x="516.5" y="0" transform="translate(0,124.5) scale(1,1.3)" text-anchor="middle">e</text>
<text x="516.5" y="0" transform="translate(0,144.5) scale(1,1.3)" text-anchor="middle">(</text>
<text x="516.5" y="0" transform="translate(0,154.5) scale(1,1.3)" text-anchor="middle">k</text>
<text x="516.5" y="0" transform="translate(0,164.5) scale(1,1.3)" text-anchor="middle">m</text>
<text x="516.5" y="0" transform="translate(0,174.5) scale(1,1.3)" text-anchor="middle">)</text>
<text x="544" y="0" transform="translate(0,229.8) scale(1,1.3)" text-anchor="middle">-90</text>
<text x="614" y="0" transform="translate(0,229.8) scale(1,1.3)" text-anchor="middle">0</text>
<text x="681.5" y="0" transform="translate(0,229.8) scale(1,1.3)" text-anchor="middle">90</text>
<text x="749" y="0" transform="translate(0,229.8) scale(1,1.3)" text-anchor="middle">0</text>
<text x="813" y="0" transform="translate(0,229.8) scale(1,1.3)" text-anchor="middle">-90</text>
<text x="682.5" y="0" transform="translate(0,242.2) scale(1,1.3)" text-anchor="middle">Lat (deg)</text>
<path d="M67 296.5H336M67 485.5H337M67.5 296V485M336.5 296V485M67 485.5h7M337 485.5h-7M67 482.5h4M337 482.5h-4M67 479.5h4M337 479.5h-4M67 476.5h4M337 476.5h-4M67 472.5h4M337 472.5h-4M67 469.5h4M337 469.5h-4M67 466.5h4M337 466.5h-4M67 463.5h4M337 463.5h-4M67 460.5h4M337 460.5h-4M67 457.5h4M337 457.5h-4M67 454.5h7M337 454.5h-7M67 450.5h4M337 450.5h-4M67 447.5h4M337 447.5h-4M67 444.5h4M337 444.5h-4M67 441.5h4M337 441.5h-4M67 438.5h4M337 438.5h-4M67 435.5h4M337 435.5h-4M67 431.5h4M337 431.5h-4M67 428.5h4M337 428.5h-4M67 425.5h4M337 425.5h-4M67 422.5h7M337 422.5h-7M67 419.5h4M337 419.5h-4M67 416.5h4M337 416.5h-4M67 413.5h4M337 413.5h-4M67 409.5h4M337 409.5h-4M67 406.5h4M337 406.5h-4M67 403.5h4M337 403.5h-4M67 400.5h4M337 400.5h-4M67 397.5h4M337 397.5h-4M67 394.5h4M337 394.5h-4M67 390.5h7M337 390.5h-7M67 387.5h4M337 387.5h-4M67 384.5h4M337 384.5h-4M67 381.5h4M337 381.5h-4M67 378.5h4M337 378.5h-4M67 375.5h4M337 375.5h-4M67 372.5h4M337 372.5h-4M67 368.5h4M337 368.5h-4M67 365.5h4M337 365.5h-4M67 362.5h4M337 362.5h-4M67 359.5h7M337 359.5h-7M67 356.5h4M337 356.5h-4M67 353.5h4M337 353.5h-4M67 350.5h4M337 350.5h-4M67 346.5h4M337 346.5h-4M67 343.5h4M337 343.5h-4M67 340.5h4M337 340.5h-4M67 337.5h4M337 337.5h-4M67 334.5h4M337 334.5h-4M67 331.5h4M337 331.5h-4M67 328.5h7M337 328.5h-7M67 324.5h4M337 324.5h-4M67 321.5h4M337 321.5h-4M67 318.5h4M337 318.5h-4M67 315.5h4M337 315.5h-4M67 312.5h4M337 312.5h-4M67 309.5h4M337 309.5h-4M67 305.5h4M337 305.5h-4M67 302.5h4M337 302.5h-4M67 299.5h4M337 299.5h-4M67 296.5h7M337 296.5h-7M134.5 485v-4M134.5 296v5M202.5 485v-4M202.5 296v5M269.5 485v-4M269.5 296v5" stroke="#000" stroke-width="1" fill="none"/>
<rect x="374.5" y="297.20" width="28.0" height="9.70" fill="#ff55ff"/>
<rect x="374.5" y="306.60" width="28.0" height="9.70" fill="#ff22bb"/>
<rect x="374.5" y="316.00" width="28.0" height="9.70" fill="#ff0a6e"/>
<rect x="374.5" y="325.40" width="28.0" height="9.70" fill="#e22d5f"/>
<rect x="374.5" y="334.80" width="28.0" height="9.70" fill="#c84a55"/>
<rect x="374.5" y="344.20" width="28.0" height="9.70" fill="#dc7035"/>
<rect x="374.5" y="353.60" width="28.0" height="9.70" fill="#ff9a00"/>
<rect x="374.5" y="363.00" width="28.0" height="9.70" fill="#ffcc00"/>
<rect x="374.5" y="372.40" width="28.0" height="9.70" fill="#ffee00"/>
<rect x="374.5" y="381.80" width="28.0" height="9.70" fill="#ccf000"/>
<rect x="374.5" y="391.20" width="28.0" height="9.70" fill="#99ee00"/>
<rect x="374.5" y="400.60" width="28.0" height="9.70" fill="#33ee77"/>
<rect x="374.5" y="410.00" width="28.0" height="9.70" fill="#11e8bb"/>
<rect x="374.5" y="419.40" width="28.0" height="9.70" fill="#00cccc"/>
<rect x="374.5" y="428.80" width="28.0" height="9.70" fill="#00aaee"/>
<rect x="374.5" y="438.20" width="28.0" height="9.70" fill="#1166ff"/>
<rect x="374.5" y="447.60" width="28.0" height="9.70" fill="#1122ee"/>
<rect x="374.5" y="457.00" width="28.0" height="9.70" fill="#1414a8"/>
<rect x="374.5" y="466.40" width="28.0" height="9.70" fill="#4a0a90"/>
<rect x="374.5" y="475.80" width="28.0" height="9.70" fill="#28083c"/>
<rect x="374.5" y="297.2" width="28.0" height="188.0" fill="none" stroke="#000" stroke-width="1"/>
<path d="M402.5 320.7h-6M402.5 344.2h-6M402.5 367.7h-6M402.5 391.2h-6M402.5 414.7h-6M402.5 438.2h-6M402.5 461.7h-6" stroke="#000" stroke-width="1"/>
<text x="443.5" y="0" transform="translate(0,298.7) scale(1,1.3)" text-anchor="end">200.0</text>
<text x="443.5" y="0" transform="translate(0,322.2) scale(1,1.3)" text-anchor="end">150.0</text>
<text x="443.5" y="0" transform="translate(0,345.7) scale(1,1.3)" text-anchor="end">100.0</text>
<text x="443.5" y="0" transform="translate(0,369.2) scale(1,1.3)" text-anchor="end">50.0</text>
<text x="443.5" y="0" transform="translate(0,392.7) scale(1,1.3)" text-anchor="end">0.0</text>
<text x="443.5" y="0" transform="translate(0,416.2) scale(1,1.3)" text-anchor="end">-50.0</text>
<text x="443.5" y="0" transform="translate(0,439.7) scale(1,1.3)" text-anchor="end">-100.0</text>
<text x="443.5" y="0" transform="translate(0,463.2) scale(1,1.3)" text-anchor="end">-150.0</text>
<text x="443.5" y="0" transform="translate(0,486.7) scale(1,1.3)" text-anchor="end">-200.0</text>
<text x="202.5" y="0" transform="translate(0,289.5) scale(1,1.3)" text-anchor="middle">Inverted Winds Meridional (warmside)</text>
<text x="64" y="0" transform="translate(0,303.3) scale(1,1.3)" text-anchor="end">120</text>
<text x="64" y="0" transform="translate(0,333.3) scale(1,1.3)" text-anchor="end">110</text>
<text x="64" y="0" transform="translate(0,363.3) scale(1,1.3)" text-anchor="end">100</text>
<text x="64" y="0" transform="translate(0,394.8) scale(1,1.3)" text-anchor="end">90</text>
<text x="64" y="0" transform="translate(0,425.8) scale(1,1.3)" text-anchor="end">80</text>
<text x="64" y="0" transform="translate(0,456.8) scale(1,1.3)" text-anchor="end">70</text>
<text x="64" y="0" transform="translate(0,484.8) scale(1,1.3)" text-anchor="end">60</text>
<text x="36.5" y="0" transform="translate(0,324.5) scale(1,1.3)" text-anchor="middle">A</text>
<text x="36.5" y="0" transform="translate(0,334.5) scale(1,1.3)" text-anchor="middle">l</text>
<text x="36.5" y="0" transform="translate(0,344.5) scale(1,1.3)" text-anchor="middle">t</text>
<text x="36.5" y="0" transform="translate(0,354.5) scale(1,1.3)" text-anchor="middle">i</text>
<text x="36.5" y="0" transform="translate(0,364.5) scale(1,1.3)" text-anchor="middle">t</text>
<text x="36.5" y="0" transform="translate(0,374.5) scale(1,1.3)" text-anchor="middle">u</text>
<text x="36.5" y="0" transform="translate(0,384.5) scale(1,1.3)" text-anchor="middle">d</text>
<text x="36.5" y="0" transform="translate(0,394.5) scale(1,1.3)" text-anchor="middle">e</text>
<text x="36.5" y="0" transform="translate(0,414.5) scale(1,1.3)" text-anchor="middle">(</text>
<text x="36.5" y="0" transform="translate(0,424.5) scale(1,1.3)" text-anchor="middle">k</text>
<text x="36.5" y="0" transform="translate(0,434.5) scale(1,1.3)" text-anchor="middle">m</text>
<text x="36.5" y="0" transform="translate(0,444.5) scale(1,1.3)" text-anchor="middle">)</text>
<text x="64" y="0" transform="translate(0,499.8) scale(1,1.3)" text-anchor="middle">-90</text>
<text x="134" y="0" transform="translate(0,499.8) scale(1,1.3)" text-anchor="middle">0</text>
<text x="201.5" y="0" transform="translate(0,499.8) scale(1,1.3)" text-anchor="middle">90</text>
<text x="269" y="0" transform="translate(0,499.8) scale(1,1.3)" text-anchor="middle">0</text>
<text x="333" y="0" transform="translate(0,499.8) scale(1,1.3)" text-anchor="middle">-90</text>
<text x="202.5" y="0" transform="translate(0,512.2) scale(1,1.3)" text-anchor="middle">Lat (deg)</text>
<path d="M547 296.5H816M547 485.5H817M547.5 296V485M816.5 296V485M547 485.5h7M817 485.5h-7M547 482.5h4M817 482.5h-4M547 479.5h4M817 479.5h-4M547 476.5h4M817 476.5h-4M547 472.5h4M817 472.5h-4M547 469.5h4M817 469.5h-4M547 466.5h4M817 466.5h-4M547 463.5h4M817 463.5h-4M547 460.5h4M817 460.5h-4M547 457.5h4M817 457.5h-4M547 454.5h7M817 454.5h-7M547 450.5h4M817 450.5h-4M547 447.5h4M817 447.5h-4M547 444.5h4M817 444.5h-4M547 441.5h4M817 441.5h-4M547 438.5h4M817 438.5h-4M547 435.5h4M817 435.5h-4M547 431.5h4M817 431.5h-4M547 428.5h4M817 428.5h-4M547 425.5h4M817 425.5h-4M547 422.5h7M817 422.5h-7M547 419.5h4M817 419.5h-4M547 416.5h4M817 416.5h-4M547 413.5h4M817 413.5h-4M547 409.5h4M817 409.5h-4M547 406.5h4M817 406.5h-4M547 403.5h4M817 403.5h-4M547 400.5h4M817 400.5h-4M547 397.5h4M817 397.5h-4M547 394.5h4M817 394.5h-4M547 390.5h7M817 390.5h-7M547 387.5h4M817 387.5h-4M547 384.5h4M817 384.5h-4M547 381.5h4M817 381.5h-4M547 378.5h4M817 378.5h-4M547 375.5h4M817 375.5h-4M547 372.5h4M817 372.5h-4M547 368.5h4M817 368.5h-4M547 365.5h4M817 365.5h-4M547 362.5h4M817 362.5h-4M547 359.5h7M817 359.5h-7M547 356.5h4M817 356.5h-4M547 353.5h4M817 353.5h-4M547 350.5h4M817 350.5h-4M547 346.5h4M817 346.5h-4M547 343.5h4M817 343.5h-4M547 340.5h4M817 340.5h-4M547 337.5h4M817 337.5h-4M547 334.5h4M817 334.5h-4M547 331.5h4M817 331.5h-4M547 328.5h7M817 328.5h-7M547 324.5h4M817 324.5h-4M547 321.5h4M817 321.5h-4M547 318.5h4M817 318.5h-4M547 315.5h4M817 315.5h-4M547 312.5h4M817 312.5h-4M547 309.5h4M817 309.5h-4M547 305.5h4M817 305.5h-4M547 302.5h4M817 302.5h-4M547 299.5h4M817 299.5h-4M547 296.5h7M817 296.5h-7M614.5 485v-4M614.5 296v5M682.5 485v-4M682.5 296v5M749.5 485v-4M749.5 296v5" stroke="#000" stroke-width="1" fill="none"/>
<rect x="845.5" y="297.20" width="28.0" height="9.70" fill="#ff55ff"/>
<rect x="845.5" y="306.60" width="28.0" height="9.70" fill="#ff22bb"/>
<rect x="845.5" y="316.00" width="28.0" height="9.70" fill="#ff0a6e"/>
<rect x="845.5" y="325.40" width="28.0" height="9.70" fill="#e22d5f"/>
<rect x="845.5" y="334.80" width="28.0" height="9.70" fill="#c84a55"/>
<rect x="845.5" y="344.20" width="28.0" height="9.70" fill="#dc7035"/>
<rect x="845.5" y="353.60" width="28.0" height="9.70" fill="#ff9a00"/>
<rect x="845.5" y="363.00" width="28.0" height="9.70" fill="#ffcc00"/>
<rect x="845.5" y="372.40" width="28.0" height="9.70" fill="#ffee00"/>
<rect x="845.5" y="381.80" width="28.0" height="9.70" fill="#ccf000"/>
<rect x="845.5" y="391.20" width="28.0" height="9.70" fill="#99ee00"/>
<rect x="845.5" y="400.60" width="28.0" height="9.70" fill="#33ee77"/>
<rect x="845.5" y="410.00" width="28.0" height="9.70" fill="#11e8bb"/>
<rect x="845.5" y="419.40" width="28.0" height="9.70" fill="#00cccc"/>
<rect x="845.5" y="428.80" width="28.0" height="9.70" fill="#00aaee"/>
<rect x="845.5" y="438.20" width="28.0" height="9.70" fill="#1166ff"/>
<rect x="845.5" y="447.60" width="28.0" height="9.70" fill="#1122ee"/>
<rect x="845.5" y="457.00" width="28.0" height="9.70" fill="#1414a8"/>
<rect x="845.5" y="466.40" width="28.0" height="9.70" fill="#4a0a90"/>
<rect x="845.5" y="475.80" width="28.0" height="9.70" fill="#28083c"/>
<rect x="845.5" y="297.2" width="28.0" height="188.0" fill="none" stroke="#000" stroke-width="1"/>
<path d="M873.5 320.7h-6M873.5 344.2h-6M873.5 367.7h-6M873.5 391.2h-6M873.5 414.7h-6M873.5 438.2h-6M873.5 461.7h-6" stroke="#000" stroke-width="1"/>
<text x="914.5" y="0" transform="translate(0,298.7) scale(1,1.3)" text-anchor="end">200.0</text>
<text x="914.5" y="0" transform="translate(0,322.2) scale(1,1.3)" text-anchor="end">150.0</text>
<text x="914.5" y="0" transform="translate(0,345.7) scale(1,1.3)" text-anchor="end">100.0</text>
<text x="914.5" y="0" transform="translate(0,369.2) scale(1,1.3)" text-anchor="end">50.0</text>
<text x="914.5" y="0" transform="translate(0,392.7) scale(1,1.3)" text-anchor="end">0.0</text>
<text x="914.5" y="0" transform="translate(0,416.2) scale(1,1.3)" text-anchor="end">-50.0</text>
<text x="914.5" y="0" transform="translate(0,439.7) scale(1,1.3)" text-anchor="end">-100.0</text>
<text x="914.5" y="0" transform="translate(0,463.2) scale(1,1.3)" text-anchor="end">-150.0</text>
<text x="914.5" y="0" transform="translate(0,486.7) scale(1,1.3)" text-anchor="end">-200.0</text>
<text x="682.5" y="0" transform="translate(0,289.5) scale(1,1.3)" text-anchor="middle">Inverted Winds Zonal (warmside)</text>
<text x="544" y="0" transform="translate(0,303.3) scale(1,1.3)" text-anchor="end">120</text>
<text x="544" y="0" transform="translate(0,333.3) scale(1,1.3)" text-anchor="end">110</text>
<text x="544" y="0" transform="translate(0,363.3) scale(1,1.3)" text-anchor="end">100</text>
<text x="544" y="0" transform="translate(0,394.8) scale(1,1.3)" text-anchor="end">90</text>
<text x="544" y="0" transform="translate(0,425.8) scale(1,1.3)" text-anchor="end">80</text>
<text x="544" y="0" transform="translate(0,456.8) scale(1,1.3)" text-anchor="end">70</text>
<text x="544" y="0" transform="translate(0,484.8) scale(1,1.3)" text-anchor="end">60</text>
<text x="516.5" y="0" transform="translate(0,324.5) scale(1,1.3)" text-anchor="middle">A</text>
<text x="516.5" y="0" transform="translate(0,334.5) scale(1,1.3)" text-anchor="middle">l</text>
<text x="516.5" y="0" transform="translate(0,344.5) scale(1,1.3)" text-anchor="middle">t</text>
<text x="516.5" y="0" transform="translate(0,354.5) scale(1,1.3)" text-anchor="middle">i</text>
<text x="516.5" y="0" transform="translate(0,364.5) scale(1,1.3)" text-anchor="middle">t</text>
<text x="516.5" y="0" transform="translate(0,374.5) scale(1,1.3)" text-anchor="middle">u</text>
<text x="516.5" y="0" transform="translate(0,384.5) scale(1,1.3)" text-anchor="middle">d</text>
<text x="516.5" y="0" transform="translate(0,394.5) scale(1,1.3)" text-anchor="middle">e</text>
<text x="516.5" y="0" transform="translate(0,414.5) scale(1,1.3)" text-anchor="middle">(</text>
<text x="516.5" y="0" transform="translate(0,424.5) scale(1,1.3)" text-anchor="middle">k</text>
<text x="516.5" y="0" transform="translate(0,434.5) scale(1,1.3)" text-anchor="middle">m</text>
<text x="516.5" y="0" transform="translate(0,444.5) scale(1,1.3)" text-anchor="middle">)</text>
<text x="544" y="0" transform="translate(0,499.8) scale(1,1.3)" text-anchor="middle">-90</text>
<text x="614" y="0" transform="translate(0,499.8) scale(1,1.3)" text-anchor="middle">0</text>
<text x="681.5" y="0" transform="translate(0,499.8) scale(1,1.3)" text-anchor="middle">90</text>
<text x="749" y="0" transform="translate(0,499.8) scale(1,1.3)" text-anchor="middle">0</text>
<text x="813" y="0" transform="translate(0,499.8) scale(1,1.3)" text-anchor="middle">-90</text>
<text x="682.5" y="0" transform="translate(0,512.2) scale(1,1.3)" text-anchor="middle">Lat (deg)</text>
<text x="576.5" y="0" transform="translate(0,524.5) scale(1,1.3)" text-anchor="start">2011350v01 Wed Aug 10 09:31:18 2016</text>
</svg></body></html>
